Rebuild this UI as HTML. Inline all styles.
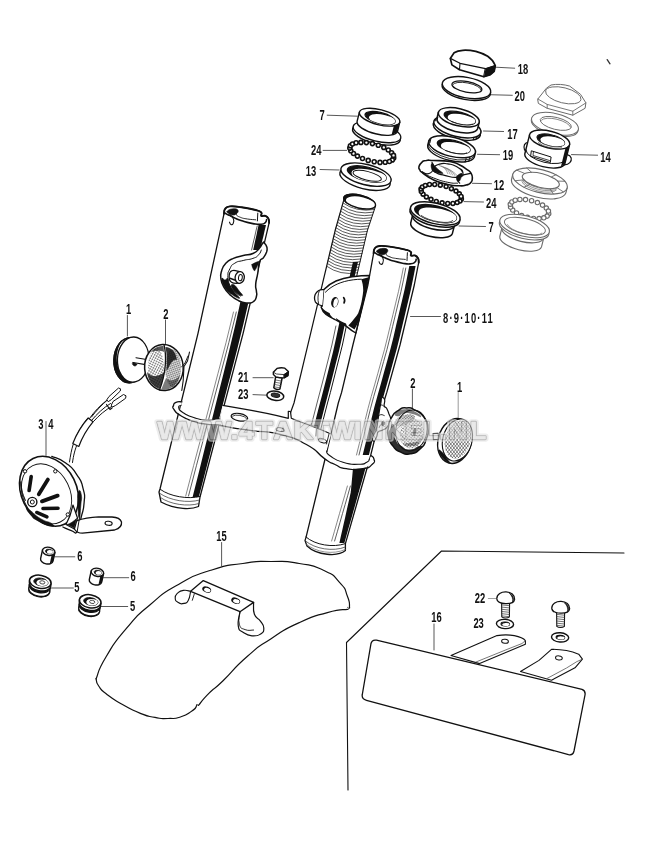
<!DOCTYPE html>
<html><head><meta charset="utf-8"><title>Front fork</title>
<style>html,body{margin:0;padding:0;background:#fff}svg{display:block}text{font-family:"Liberation Sans",sans-serif}</style>
</head><body>
<svg width="646" height="862" viewBox="0 0 646 862">
<rect width="646" height="862" fill="#fff"/>
<defs><pattern id="stip" width="2.4" height="2.4" patternUnits="userSpaceOnUse" patternTransform="rotate(28)"><circle cx="0.8" cy="0.8" r="0.75" fill="#111"/></pattern><pattern id="stip2" width="2" height="2" patternUnits="userSpaceOnUse" patternTransform="rotate(-20)"><circle cx="0.8" cy="0.8" r="0.8" fill="#111"/></pattern></defs>
<path d="M624 553 L441.5 551 L346.5 642.5 L348 790" fill="none" stroke="#111" stroke-width="1.1" stroke-linejoin="round" stroke-linecap="round" />
<g opacity="0.999">
<text transform="translate(517.8 74.0) scale(0.66 1)" text-anchor="start" font-size="14.2" font-weight="700" fill="#111">18</text>
<text transform="translate(514.5 101.0) scale(0.66 1)" text-anchor="start" font-size="14.2" font-weight="700" fill="#111">20</text>
<text transform="translate(507.3 138.5) scale(0.66 1)" text-anchor="start" font-size="14.2" font-weight="700" fill="#111">17</text>
<text transform="translate(502.8 160.0) scale(0.66 1)" text-anchor="start" font-size="14.2" font-weight="700" fill="#111">19</text>
<text transform="translate(600.3 162.0) scale(0.66 1)" text-anchor="start" font-size="14.2" font-weight="700" fill="#111">14</text>
<text transform="translate(493.8 189.5) scale(0.66 1)" text-anchor="start" font-size="14.2" font-weight="700" fill="#111">12</text>
<text transform="translate(486.0 208.0) scale(0.66 1)" text-anchor="start" font-size="14.2" font-weight="700" fill="#111">24</text>
<text transform="translate(488.5 231.5) scale(0.66 1)" text-anchor="start" font-size="14.2" font-weight="700" fill="#111">7</text>
<text transform="translate(410.2 387.5) scale(0.66 1)" text-anchor="start" font-size="14.2" font-weight="700" fill="#111">2</text>
<text transform="translate(457.0 391.5) scale(0.66 1)" text-anchor="start" font-size="14.2" font-weight="700" fill="#111">1</text>
<text transform="translate(319.5 119.8) scale(0.66 1)" text-anchor="start" font-size="14.2" font-weight="700" fill="#111">7</text>
<text transform="translate(311.0 155.4) scale(0.66 1)" text-anchor="start" font-size="14.2" font-weight="700" fill="#111">24</text>
<text transform="translate(305.8 175.5) scale(0.66 1)" text-anchor="start" font-size="14.2" font-weight="700" fill="#111">13</text>
<text transform="translate(126.1 313.7) scale(0.66 1)" text-anchor="start" font-size="14.2" font-weight="700" fill="#111">1</text>
<text transform="translate(163.2 318.5) scale(0.66 1)" text-anchor="start" font-size="14.2" font-weight="700" fill="#111">2</text>
<text transform="translate(238.0 382.0) scale(0.66 1)" text-anchor="start" font-size="14.2" font-weight="700" fill="#111">21</text>
<text transform="translate(238.0 399.0) scale(0.66 1)" text-anchor="start" font-size="14.2" font-weight="700" fill="#111">23</text>
<text transform="translate(77.2 561.0) scale(0.66 1)" text-anchor="start" font-size="14.2" font-weight="700" fill="#111">6</text>
<text transform="translate(130.5 581.4) scale(0.66 1)" text-anchor="start" font-size="14.2" font-weight="700" fill="#111">6</text>
<text transform="translate(74.2 592.4) scale(0.66 1)" text-anchor="start" font-size="14.2" font-weight="700" fill="#111">5</text>
<text transform="translate(130.0 610.5) scale(0.66 1)" text-anchor="start" font-size="14.2" font-weight="700" fill="#111">5</text>
<text transform="translate(216.3 540.5) scale(0.66 1)" text-anchor="start" font-size="14.2" font-weight="700" fill="#111">15</text>
<text transform="translate(431.3 622.0) scale(0.66 1)" text-anchor="start" font-size="14.2" font-weight="700" fill="#111">16</text>
<text transform="translate(474.7 603.4) scale(0.66 1)" text-anchor="start" font-size="14.2" font-weight="700" fill="#111">22</text>
<text transform="translate(473.4 628.2) scale(0.66 1)" text-anchor="start" font-size="14.2" font-weight="700" fill="#111">23</text>
<text transform="translate(443 322.5) scale(0.66 1)" font-size="14.2" font-weight="700" fill="#111" textLength="75.5" lengthAdjust="spacing">8·9·10·11</text>
<text transform="translate(38.2 428.5) scale(0.66 1)" font-size="14.2" font-weight="700" fill="#111" textLength="23" lengthAdjust="spacing">3 4</text>
</g>
<line x1="495.6" y1="67.2" x2="514.7" y2="68.2" stroke="#3a3a3a" stroke-width="0.85" stroke-linecap="round"/>
<line x1="489.5" y1="94.7" x2="512.3" y2="95.3" stroke="#3a3a3a" stroke-width="0.85" stroke-linecap="round"/>
<line x1="483.5" y1="131.0" x2="503.6" y2="131.5" stroke="#3a3a3a" stroke-width="0.85" stroke-linecap="round"/>
<line x1="477.5" y1="154.3" x2="499.6" y2="154.7" stroke="#3a3a3a" stroke-width="0.85" stroke-linecap="round"/>
<line x1="472.4" y1="183.3" x2="491.5" y2="183.7" stroke="#3a3a3a" stroke-width="0.85" stroke-linecap="round"/>
<line x1="464.0" y1="201.6" x2="483.5" y2="202.0" stroke="#3a3a3a" stroke-width="0.85" stroke-linecap="round"/>
<line x1="459.0" y1="226.0" x2="485.5" y2="226.5" stroke="#3a3a3a" stroke-width="0.85" stroke-linecap="round"/>
<line x1="571.5" y1="154.6" x2="597.6" y2="155.2" stroke="#3a3a3a" stroke-width="0.85" stroke-linecap="round"/>
<line x1="327.2" y1="115.2" x2="357.3" y2="116.2" stroke="#3a3a3a" stroke-width="0.85" stroke-linecap="round"/>
<line x1="323.1" y1="150.4" x2="346.7" y2="150.4" stroke="#3a3a3a" stroke-width="0.85" stroke-linecap="round"/>
<line x1="320.1" y1="169.5" x2="339.2" y2="170.0" stroke="#3a3a3a" stroke-width="0.85" stroke-linecap="round"/>
<line x1="410.5" y1="316.5" x2="440.5" y2="316.5" stroke="#3a3a3a" stroke-width="0.85" stroke-linecap="round"/>
<line x1="253.0" y1="377.7" x2="273.2" y2="377.7" stroke="#3a3a3a" stroke-width="0.85" stroke-linecap="round"/>
<line x1="253.0" y1="394.6" x2="267.2" y2="395.2" stroke="#3a3a3a" stroke-width="0.85" stroke-linecap="round"/>
<line x1="412.4" y1="389.0" x2="412.4" y2="408.0" stroke="#3a3a3a" stroke-width="0.85" stroke-linecap="round"/>
<line x1="458.2" y1="392.5" x2="458.2" y2="420.0" stroke="#888" stroke-width="0.85" stroke-linecap="round"/>
<line x1="127.4" y1="315.5" x2="127.4" y2="336.0" stroke="#3a3a3a" stroke-width="0.85" stroke-linecap="round"/>
<line x1="165.5" y1="320.0" x2="165.5" y2="344.7" stroke="#3a3a3a" stroke-width="0.85" stroke-linecap="round"/>
<line x1="46.0" y1="421.5" x2="46.0" y2="455.5" stroke="#3a3a3a" stroke-width="0.85" stroke-linecap="round"/>
<line x1="54.7" y1="556.8" x2="74.8" y2="556.8" stroke="#3a3a3a" stroke-width="0.85" stroke-linecap="round"/>
<line x1="103.6" y1="577.7" x2="128.7" y2="577.7" stroke="#3a3a3a" stroke-width="0.85" stroke-linecap="round"/>
<line x1="51.2" y1="588.0" x2="73.4" y2="588.0" stroke="#3a3a3a" stroke-width="0.85" stroke-linecap="round"/>
<line x1="100.5" y1="606.5" x2="127.7" y2="606.5" stroke="#3a3a3a" stroke-width="0.85" stroke-linecap="round"/>
<line x1="221.6" y1="542.5" x2="221.6" y2="566.0" stroke="#3a3a3a" stroke-width="0.85" stroke-linecap="round"/>
<line x1="434.0" y1="624.0" x2="434.0" y2="650.0" stroke="#3a3a3a" stroke-width="0.85" stroke-linecap="round"/>
<line x1="488.3" y1="598.5" x2="495.7" y2="598.5" stroke="#888" stroke-width="0.8" stroke-linecap="round"/>
<path d="M450.3 58.4 L454.1 52.8 C457 51 460 50.5 462.8 50.3 C467 50 471.5 50.5 475.8 51.4 C480 52.5 484 54 487.7 56.3 C491 58.5 493.5 61.5 495.3 65.5 L494.2 71.4 L490.4 74.7 L483.9 76.8 L459.5 69.8 L451.9 64.9 Z" fill="#fff" stroke="#111" stroke-width="1.7" stroke-linejoin="round" stroke-linecap="round" />
<path d="M450.3 58.4 L460 63.3 L485.5 68.7 L495.3 65.5" fill="none" stroke="#111" stroke-width="1.2" stroke-linejoin="round" stroke-linecap="round" />
<path d="M460 63.3 L459.5 69.8" fill="none" stroke="#111" stroke-width="1.1" stroke-linejoin="round" stroke-linecap="round" />
<path d="M485.5 68.7 L495.3 65.5 L494.2 71.4 L490.4 74.7 L483.9 76.8 Z" fill="#111" stroke="#111" stroke-width="1.0" stroke-linejoin="round" stroke-linecap="round" />
<ellipse cx="466.3" cy="89.4" rx="24.6" ry="10.2" transform="rotate(11 466.3 89.4)" fill="#fff" stroke="#111" stroke-width="1.4" />
<ellipse cx="466.5" cy="87.6" rx="24.6" ry="10.2" transform="rotate(11 466.5 87.6)" fill="#fff" stroke="#111" stroke-width="1.4" />
<ellipse cx="466.9" cy="86.9" rx="15.2" ry="5.3" transform="rotate(11 466.9 86.9)" fill="#fff" stroke="#111" stroke-width="1.3" />
<path d="M452.7 84.7 A14.6 4.9 11 0 1 481.3 90.3" fill="none" stroke="#111" stroke-width="0.9" stroke-linejoin="round" stroke-linecap="round" />
<ellipse cx="456.8" cy="129.4" rx="24.2" ry="9.6" transform="rotate(14 456.8 129.4)" fill="#fff" stroke="#111" stroke-width="1.5" />
<ellipse cx="457.4" cy="126.9" rx="24.2" ry="9.6" transform="rotate(14 457.4 126.9)" fill="#fff" stroke="#111" stroke-width="1.5" />
<path d="M438.4 112.2 L436.9 118.5 A21 8.5 14 0 0 477.6 128.7 L479.2 122.4 Z" fill="#fff" stroke="#111" stroke-width="1.5" stroke-linejoin="round" stroke-linecap="round" />
<ellipse cx="458.8" cy="117.3" rx="21.0" ry="8.5" transform="rotate(14 458.8 117.3)" fill="#fff" stroke="#111" stroke-width="1.5" />
<ellipse cx="459.8" cy="117.9" rx="16.0" ry="5.7" transform="rotate(14 459.8 117.9)" fill="#fff" stroke="#111" stroke-width="1.35" />
<clipPath id="c1"><ellipse cx="459.8" cy="117.9" rx="16.0" ry="5.7" transform="rotate(14 459.8 117.9)"/></clipPath>
<g clip-path="url(#c1)">
<ellipse cx="459.8" cy="117.9" rx="16.0" ry="5.7" transform="rotate(14 459.8 117.9)" fill="#111" stroke="none" stroke-width="0" />
<ellipse cx="463.3" cy="120.5" rx="16.0" ry="5.7" transform="rotate(14 463.3 120.5)" fill="#fff" stroke="none" stroke-width="0" />
</g>
<path d="M472.2 124.1 A14 4.4 14 0 1 451.7 121.7" fill="none" stroke="#111" stroke-width="0.8" stroke-linejoin="round" stroke-linecap="round" />
<line x1="435.8" y1="118.5" x2="435.2" y2="121.0" stroke="#111" stroke-width="1.0" stroke-linecap="round"/>
<line x1="437.8" y1="117.4" x2="437.1" y2="119.9" stroke="#111" stroke-width="1.0" stroke-linecap="round"/>
<line x1="477.0" y1="136.4" x2="476.4" y2="139.0" stroke="#111" stroke-width="1.0" stroke-linecap="round"/>
<line x1="473.9" y1="137.4" x2="473.3" y2="139.9" stroke="#111" stroke-width="1.0" stroke-linecap="round"/>
<path d="M428.8 141.0 L427.7 145.7 A24 9.6 14 0 0 474.2 157.3 L475.4 152.6 Z" fill="#fff" stroke="#111" stroke-width="1.5" stroke-linejoin="round" stroke-linecap="round" />
<ellipse cx="452.1" cy="146.8" rx="24.0" ry="9.6" transform="rotate(14 452.1 146.8)" fill="#fff" stroke="#111" stroke-width="1.5" />
<path d="M474.5 155.7 A24 9.6 14 0 1 428.1 144.2" fill="none" stroke="#111" stroke-width="0.9" stroke-linejoin="round" stroke-linecap="round" />
<ellipse cx="453.7" cy="146.5" rx="16.8" ry="6.0" transform="rotate(14 453.7 146.5)" fill="#fff" stroke="#111" stroke-width="1.35" />
<clipPath id="c2"><ellipse cx="453.7" cy="146.5" rx="16.8" ry="6.0" transform="rotate(14 453.7 146.5)"/></clipPath>
<g clip-path="url(#c2)">
<ellipse cx="453.7" cy="146.5" rx="16.8" ry="6.0" transform="rotate(14 453.7 146.5)" fill="#111" stroke="none" stroke-width="0" />
<ellipse cx="457.3" cy="149.1" rx="16.8" ry="6.0" transform="rotate(14 457.3 149.1)" fill="#fff" stroke="none" stroke-width="0" />
</g>
<path d="M466.6 152.9 A14.5 4.6 14 0 1 445.3 150.5" fill="none" stroke="#111" stroke-width="0.8" stroke-linejoin="round" stroke-linecap="round" />
<line x1="469.8" y1="156.9" x2="468.7" y2="161.6" stroke="#111" stroke-width="1.0" stroke-linecap="round"/>
<line x1="466.3" y1="157.6" x2="465.1" y2="162.2" stroke="#111" stroke-width="1.0" stroke-linecap="round"/>
<line x1="429.6" y1="139.5" x2="428.4" y2="144.1" stroke="#111" stroke-width="1.0" stroke-linecap="round"/>
<line x1="431.0" y1="138.2" x2="429.9" y2="142.8" stroke="#111" stroke-width="1.0" stroke-linecap="round"/>
<path d="M419.0 166.6 C419.6 164.4 419.6 164.1 421.8 162.3 C423.9 160.4 422.5 161.0 426.1 160.5 C429.7 159.9 426.5 160.1 433.7 160.5 C440.8 160.8 442.1 160.2 449.9 161.5 C457.7 162.9 454.6 162.7 459.7 165.0 C464.7 167.3 463.3 166.9 466.7 169.3 C470.1 171.8 469.4 170.4 471.0 173.1 C472.7 175.9 472.5 175.6 472.3 178.5 C472.2 181.5 472.4 180.9 470.5 182.9 C468.7 184.8 469.4 184.2 466.2 185.0 C462.9 185.9 465.2 186.0 459.7 185.8 C454.1 185.6 455.6 186.3 447.8 184.5 C440.0 182.7 441.1 183.4 433.7 180.0 C426.2 176.5 427.0 176.1 422.8 173.1 C418.7 170.1 420.9 171.8 419.8 169.9 C418.7 167.9 418.5 168.9 419.0 166.6 Z" fill="#fff" stroke="#111" stroke-width="1.6" stroke-linejoin="round" stroke-linecap="round" />
<path d="M433.7 168.3 C434.8 165.7 435.4 165.4 439.6 164.1 C443.9 162.8 442.7 163.2 447.8 163.9 C452.8 164.7 451.9 164.0 456.4 166.6 C461.0 169.2 462.4 169.4 462.9 172.6 C463.4 175.7 463.6 176.3 458.0 177.1 C452.5 178.0 451.2 176.8 444.5 175.4 C437.8 174.0 439.1 174.7 435.8 172.6 C432.6 170.4 432.5 170.8 433.7 168.3 Z" fill="#fff" stroke="#111" stroke-width="1.2" stroke-linejoin="round" stroke-linecap="round" />
<path d="M439.1 165.5 C440.7 166.4 441.9 165.8 444.5 168.3 C447.1 170.7 446.8 172.0 447.8 173.7" fill="none" stroke="#666" stroke-width="0.6" stroke-linejoin="round" stroke-linecap="round" />
<path d="M441.0 166.2 C442.8 167.1 444.2 166.9 446.9 169.3 C449.6 171.8 449.2 172.8 450.1 174.3" fill="none" stroke="#666" stroke-width="0.6" stroke-linejoin="round" stroke-linecap="round" />
<path d="M443.0 166.8 C444.9 167.9 446.4 168.0 449.3 170.4 C452.1 172.9 451.5 173.6 452.5 175.0" fill="none" stroke="#666" stroke-width="0.6" stroke-linejoin="round" stroke-linecap="round" />
<path d="M444.9 167.5 C447.0 168.7 448.7 169.1 451.7 171.5 C454.6 173.9 453.9 174.4 454.9 175.6" fill="none" stroke="#666" stroke-width="0.6" stroke-linejoin="round" stroke-linecap="round" />
<path d="M446.9 168.1 C449.0 169.5 450.9 170.1 454.0 172.6 C457.2 175.0 456.3 175.2 457.3 176.3" fill="none" stroke="#666" stroke-width="0.6" stroke-linejoin="round" stroke-linecap="round" />
<path d="M432.0 162.3 C432.5 164.1 434.8 164.8 433.7 168.3 C432.5 171.7 431.7 172.6 428.3 173.7 C424.8 174.7 424.1 172.3 422.3 171.7" fill="none" stroke="#111" stroke-width="1.2" stroke-linejoin="round" stroke-linecap="round" />
<path d="M458.6 176.1 C462.2 175.2 466.9 174.2 470.5 173.3" fill="none" stroke="#111" stroke-width="1.2" stroke-linejoin="round" stroke-linecap="round" />
<path d="M458.6 176.1 C458.1 177.0 456.6 176.9 457.0 179.1 C457.3 181.2 458.9 182.0 459.7 183.2" fill="none" stroke="#111" stroke-width="1.2" stroke-linejoin="round" stroke-linecap="round" />
<path d="M422.8 173.1 C426.1 174.6 426.2 175.2 433.7 178.0 C441.1 180.8 440.6 180.8 447.8 182.3 C454.9 183.9 454.6 182.9 457.5 183.2" fill="none" stroke="#111" stroke-width="1.0" stroke-linejoin="round" stroke-linecap="round" />
<path d="M432.0 163.7 C433.3 163.9 435.8 167.4 438.0 169.3 C440.2 171.3 443.6 173.0 442.9 173.5 C442.1 173.9 436.5 172.8 434.2 171.7 C431.9 170.7 431.9 169.9 431.5 168.3 C431.1 166.6 430.7 163.5 432.0 163.7 Z" fill="#111" stroke="#111" stroke-width="0.6" stroke-linejoin="round" stroke-linecap="round" />
<path d="M457.0 176.1 C457.7 174.8 461.6 172.7 462.1 173.5 C462.5 174.2 460.6 179.1 459.9 180.4 C459.1 181.6 458.0 181.8 457.5 181.0 C457.0 180.3 456.2 177.3 457.0 176.1 Z" fill="#111" stroke="#111" stroke-width="0.6" stroke-linejoin="round" stroke-linecap="round" />
<circle cx="461.4" cy="199.0" r="1.95" fill="#fff" stroke="#111" stroke-width="1.6"/>
<circle cx="460.0" cy="201.1" r="1.95" fill="#fff" stroke="#111" stroke-width="1.6"/>
<circle cx="457.1" cy="202.6" r="1.95" fill="#fff" stroke="#111" stroke-width="1.6"/>
<circle cx="452.9" cy="203.5" r="1.95" fill="#fff" stroke="#111" stroke-width="1.6"/>
<circle cx="447.7" cy="203.5" r="1.95" fill="#fff" stroke="#111" stroke-width="1.6"/>
<circle cx="442.1" cy="202.8" r="1.95" fill="#fff" stroke="#111" stroke-width="1.6"/>
<circle cx="436.3" cy="201.4" r="1.95" fill="#fff" stroke="#111" stroke-width="1.6"/>
<circle cx="431.0" cy="199.3" r="1.95" fill="#fff" stroke="#111" stroke-width="1.6"/>
<circle cx="426.4" cy="196.9" r="1.95" fill="#fff" stroke="#111" stroke-width="1.6"/>
<circle cx="423.1" cy="194.2" r="1.95" fill="#fff" stroke="#111" stroke-width="1.6"/>
<circle cx="421.3" cy="191.5" r="1.95" fill="#fff" stroke="#111" stroke-width="1.6"/>
<circle cx="421.0" cy="189.0" r="1.95" fill="#fff" stroke="#111" stroke-width="1.6"/>
<circle cx="422.4" cy="186.9" r="1.95" fill="#fff" stroke="#111" stroke-width="1.6"/>
<circle cx="425.3" cy="185.4" r="1.95" fill="#fff" stroke="#111" stroke-width="1.6"/>
<circle cx="429.5" cy="184.5" r="1.95" fill="#fff" stroke="#111" stroke-width="1.6"/>
<circle cx="434.7" cy="184.5" r="1.95" fill="#fff" stroke="#111" stroke-width="1.6"/>
<circle cx="440.3" cy="185.2" r="1.95" fill="#fff" stroke="#111" stroke-width="1.6"/>
<circle cx="446.1" cy="186.6" r="1.95" fill="#fff" stroke="#111" stroke-width="1.6"/>
<circle cx="451.4" cy="188.7" r="1.95" fill="#fff" stroke="#111" stroke-width="1.6"/>
<circle cx="456.0" cy="191.1" r="1.95" fill="#fff" stroke="#111" stroke-width="1.6"/>
<circle cx="459.3" cy="193.8" r="1.95" fill="#fff" stroke="#111" stroke-width="1.6"/>
<circle cx="461.1" cy="196.5" r="1.95" fill="#fff" stroke="#111" stroke-width="1.6"/>
<path d="M412.6 215.2 L410.7 223.0 A21.5 8.6 14 0 0 452.4 233.4 L454.4 225.6 Z" fill="#fff" stroke="#111" stroke-width="1.5" stroke-linejoin="round" stroke-linecap="round" />
<ellipse cx="433.5" cy="220.4" rx="21.5" ry="8.6" transform="rotate(14 433.5 220.4)" fill="#fff" stroke="#111" stroke-width="1.5" />
<ellipse cx="434.8" cy="215.6" rx="25.5" ry="10.3" transform="rotate(14 434.8 215.6)" fill="#fff" stroke="#111" stroke-width="1.5" />
<ellipse cx="435.3" cy="213.4" rx="25.5" ry="10.3" transform="rotate(14 435.3 213.4)" fill="#fff" stroke="#111" stroke-width="1.5" />
<ellipse cx="435.6" cy="213.6" rx="21.5" ry="7.8" transform="rotate(14 435.6 213.6)" fill="#fff" stroke="#111" stroke-width="1.275" />
<clipPath id="c3"><ellipse cx="435.6" cy="213.6" rx="21.5" ry="7.8" transform="rotate(14 435.6 213.6)"/></clipPath>
<g clip-path="url(#c3)">
<ellipse cx="435.6" cy="213.6" rx="21.5" ry="7.8" transform="rotate(14 435.6 213.6)" fill="#111" stroke="none" stroke-width="0" />
<ellipse cx="439.6" cy="216.6" rx="21.5" ry="7.8" transform="rotate(14 439.6 216.6)" fill="#fff" stroke="none" stroke-width="0" />
</g>
<path d="M452.6 220.6 A18 5.6 14 0 1 421.3 215.6" fill="none" stroke="#111" stroke-width="0.8" stroke-linejoin="round" stroke-linecap="round" />
<ellipse cx="376.4" cy="134.6" rx="24.5" ry="9.0" transform="rotate(14 376.4 134.6)" fill="#fff" stroke="#111" stroke-width="1.4" />
<ellipse cx="377.0" cy="132.2" rx="24.5" ry="9.0" transform="rotate(14 377.0 132.2)" fill="#fff" stroke="#111" stroke-width="1.4" />
<path d="M359.4 112.2 L357.1 121.4 A20.8 7.6 14 0 0 397.5 131.4 L399.8 122.2 Z" fill="#fff" stroke="#111" stroke-width="1.4" stroke-linejoin="round" stroke-linecap="round" />
<ellipse cx="379.6" cy="117.2" rx="20.8" ry="7.6" transform="rotate(14 379.6 117.2)" fill="#fff" stroke="#111" stroke-width="1.4" />
<path d="M399.3 123.2 L397.0 132.4 L391.6 135.0 L393.9 125.8 Z" fill="#111" stroke="none" stroke-width="1.1" stroke-linejoin="round" stroke-linecap="round" />
<ellipse cx="380.1" cy="118.0" rx="15.5" ry="5.5" transform="rotate(14 380.1 118.0)" fill="#fff" stroke="#111" stroke-width="1.19" />
<clipPath id="c4"><ellipse cx="380.1" cy="118.0" rx="15.5" ry="5.5" transform="rotate(14 380.1 118.0)"/></clipPath>
<g clip-path="url(#c4)">
<ellipse cx="380.1" cy="118.0" rx="15.5" ry="5.5" transform="rotate(14 380.1 118.0)" fill="#111" stroke="none" stroke-width="0" />
<ellipse cx="384.1" cy="120.6" rx="15.5" ry="5.5" transform="rotate(14 384.1 120.6)" fill="#fff" stroke="none" stroke-width="0" />
</g>
<circle cx="393.7" cy="157.9" r="2.0" fill="#fff" stroke="#111" stroke-width="1.6"/>
<circle cx="392.3" cy="159.9" r="2.0" fill="#fff" stroke="#111" stroke-width="1.6"/>
<circle cx="389.4" cy="161.5" r="2.0" fill="#fff" stroke="#111" stroke-width="1.6"/>
<circle cx="385.2" cy="162.3" r="2.0" fill="#fff" stroke="#111" stroke-width="1.6"/>
<circle cx="380.0" cy="162.4" r="2.0" fill="#fff" stroke="#111" stroke-width="1.6"/>
<circle cx="374.2" cy="161.8" r="2.0" fill="#fff" stroke="#111" stroke-width="1.6"/>
<circle cx="368.2" cy="160.4" r="2.0" fill="#fff" stroke="#111" stroke-width="1.6"/>
<circle cx="362.5" cy="158.5" r="2.0" fill="#fff" stroke="#111" stroke-width="1.6"/>
<circle cx="357.4" cy="156.1" r="2.0" fill="#fff" stroke="#111" stroke-width="1.6"/>
<circle cx="353.5" cy="153.5" r="2.0" fill="#fff" stroke="#111" stroke-width="1.6"/>
<circle cx="350.8" cy="150.7" r="2.0" fill="#fff" stroke="#111" stroke-width="1.6"/>
<circle cx="349.8" cy="148.1" r="2.0" fill="#fff" stroke="#111" stroke-width="1.6"/>
<circle cx="350.4" cy="145.8" r="2.0" fill="#fff" stroke="#111" stroke-width="1.6"/>
<circle cx="352.5" cy="144.0" r="2.0" fill="#fff" stroke="#111" stroke-width="1.6"/>
<circle cx="356.1" cy="142.8" r="2.0" fill="#fff" stroke="#111" stroke-width="1.6"/>
<circle cx="360.9" cy="142.4" r="2.0" fill="#fff" stroke="#111" stroke-width="1.6"/>
<circle cx="366.4" cy="142.6" r="2.0" fill="#fff" stroke="#111" stroke-width="1.6"/>
<circle cx="372.4" cy="143.6" r="2.0" fill="#fff" stroke="#111" stroke-width="1.6"/>
<circle cx="378.3" cy="145.2" r="2.0" fill="#fff" stroke="#111" stroke-width="1.6"/>
<circle cx="383.8" cy="147.4" r="2.0" fill="#fff" stroke="#111" stroke-width="1.6"/>
<circle cx="388.3" cy="150.0" r="2.0" fill="#fff" stroke="#111" stroke-width="1.6"/>
<circle cx="391.6" cy="152.7" r="2.0" fill="#fff" stroke="#111" stroke-width="1.6"/>
<circle cx="393.5" cy="155.4" r="2.0" fill="#fff" stroke="#111" stroke-width="1.6"/>
<ellipse cx="365.0" cy="178.7" rx="25.8" ry="10.2" transform="rotate(14 365.0 178.7)" fill="#fff" stroke="#111" stroke-width="1.4" />
<ellipse cx="366.0" cy="174.6" rx="25.8" ry="10.2" transform="rotate(14 366.0 174.6)" fill="#fff" stroke="#111" stroke-width="1.4" />
<ellipse cx="366.8" cy="174.0" rx="20.0" ry="7.0" transform="rotate(14 366.8 174.0)" fill="#fff" stroke="#111" stroke-width="1.19" />
<clipPath id="c5"><ellipse cx="366.8" cy="174.0" rx="20.0" ry="7.0" transform="rotate(14 366.8 174.0)"/></clipPath>
<g clip-path="url(#c5)">
<ellipse cx="366.8" cy="174.0" rx="20.0" ry="7.0" transform="rotate(14 366.8 174.0)" fill="#111" stroke="none" stroke-width="0" />
<ellipse cx="371.0" cy="177.0" rx="20.0" ry="7.0" transform="rotate(14 371.0 177.0)" fill="#fff" stroke="none" stroke-width="0" />
</g>
<ellipse cx="367.2" cy="175.8" rx="14.5" ry="4.3" transform="rotate(14 367.2 175.8)" fill="#fff" stroke="#111" stroke-width="1.0" />
<path d="M343.9 199.7 L335.3 230.0 L294.0 403.0 L289.3 416.0 L286.0 430.0 L316.0 450.0 L318.0 440.0 L327.5 403.0 L330.4 392.4 L342.4 345.0 L357.4 273.0 L367.5 230.0 L375.6 206.0 Z" fill="#fff" stroke="none" stroke-width="1.2" stroke-linejoin="round" stroke-linecap="round" />
<path d="M343.9 199.7 L335.3 230.0 L294.0 403.0 L289.3 416.0 L286.0 430.0" fill="none" stroke="#111" stroke-width="1.2" stroke-linejoin="round" stroke-linecap="round" />
<path d="M375.6 206.0 L367.5 230.0 L357.4 273.0 L342.4 345.0 L330.4 392.4 L327.5 403.0 L318.0 440.0 L316.0 450.0" fill="none" stroke="#111" stroke-width="1.0" stroke-linejoin="round" stroke-linecap="round" />
<path d="M343.0 203.0 Q356.7 212.5 374.4 209.5" fill="none" stroke="#222" stroke-width="0.75" stroke-linejoin="round" stroke-linecap="round" />
<path d="M342.2 205.8 Q355.8 215.2 373.5 212.2" fill="none" stroke="#222" stroke-width="0.75" stroke-linejoin="round" stroke-linecap="round" />
<path d="M341.4 208.5 Q355.0 218.0 372.6 215.0" fill="none" stroke="#222" stroke-width="0.75" stroke-linejoin="round" stroke-linecap="round" />
<path d="M340.6 211.2 Q354.1 220.8 371.6 217.8" fill="none" stroke="#222" stroke-width="0.75" stroke-linejoin="round" stroke-linecap="round" />
<path d="M339.8 214.0 Q353.3 223.5 370.7 220.5" fill="none" stroke="#222" stroke-width="0.75" stroke-linejoin="round" stroke-linecap="round" />
<path d="M339.1 216.8 Q352.4 226.2 369.8 223.2" fill="none" stroke="#222" stroke-width="0.75" stroke-linejoin="round" stroke-linecap="round" />
<path d="M338.3 219.5 Q351.6 229.0 368.9 226.0" fill="none" stroke="#222" stroke-width="0.75" stroke-linejoin="round" stroke-linecap="round" />
<path d="M337.5 222.2 Q350.7 231.8 367.9 228.8" fill="none" stroke="#222" stroke-width="0.75" stroke-linejoin="round" stroke-linecap="round" />
<path d="M336.7 225.0 Q349.9 234.5 367.1 231.5" fill="none" stroke="#222" stroke-width="0.75" stroke-linejoin="round" stroke-linecap="round" />
<path d="M335.9 227.8 Q349.2 237.2 366.5 234.2" fill="none" stroke="#222" stroke-width="0.75" stroke-linejoin="round" stroke-linecap="round" />
<path d="M335.2 230.5 Q348.5 240.0 365.9 237.0" fill="none" stroke="#222" stroke-width="0.75" stroke-linejoin="round" stroke-linecap="round" />
<path d="M334.5 233.2 Q347.9 242.8 365.2 239.8" fill="none" stroke="#222" stroke-width="0.75" stroke-linejoin="round" stroke-linecap="round" />
<path d="M333.9 236.0 Q347.2 245.5 364.6 242.5" fill="none" stroke="#222" stroke-width="0.75" stroke-linejoin="round" stroke-linecap="round" />
<path d="M333.2 238.8 Q346.6 248.2 363.9 245.2" fill="none" stroke="#222" stroke-width="0.75" stroke-linejoin="round" stroke-linecap="round" />
<path d="M332.6 241.5 Q345.9 251.0 363.3 248.0" fill="none" stroke="#222" stroke-width="0.75" stroke-linejoin="round" stroke-linecap="round" />
<path d="M331.9 244.2 Q345.3 253.8 362.6 250.8" fill="none" stroke="#222" stroke-width="0.75" stroke-linejoin="round" stroke-linecap="round" />
<path d="M331.2 247.0 Q344.6 256.5 362.0 253.5" fill="none" stroke="#222" stroke-width="0.75" stroke-linejoin="round" stroke-linecap="round" />
<path d="M330.6 249.8 Q344.0 259.2 361.3 256.2" fill="none" stroke="#222" stroke-width="0.75" stroke-linejoin="round" stroke-linecap="round" />
<path d="M329.9 252.5 Q343.3 262.0 360.7 259.0" fill="none" stroke="#222" stroke-width="0.75" stroke-linejoin="round" stroke-linecap="round" />
<path d="M329.3 255.2 Q342.7 264.8 360.0 261.8" fill="none" stroke="#222" stroke-width="0.75" stroke-linejoin="round" stroke-linecap="round" />
<path d="M328.6 258.0 Q342.0 267.5 359.4 264.5" fill="none" stroke="#222" stroke-width="0.75" stroke-linejoin="round" stroke-linecap="round" />
<path d="M328.0 260.8 Q341.4 270.2 358.8 267.2" fill="none" stroke="#222" stroke-width="0.75" stroke-linejoin="round" stroke-linecap="round" />
<path d="M327.3 263.5 Q340.7 273.0 358.1 270.0" fill="none" stroke="#222" stroke-width="0.75" stroke-linejoin="round" stroke-linecap="round" />
<path d="M326.6 266.2 Q340.1 275.8 357.5 272.8" fill="none" stroke="#222" stroke-width="0.75" stroke-linejoin="round" stroke-linecap="round" />
<ellipse cx="359.6" cy="201.6" rx="16.3" ry="6.4" transform="rotate(14 359.6 201.6)" fill="#fff" stroke="#111" stroke-width="1.3" />
<clipPath id="c6"><ellipse cx="359.6" cy="201.6" rx="16.3" ry="6.4" transform="rotate(14 359.6 201.6)"/></clipPath>
<g clip-path="url(#c6)">
<ellipse cx="359.6" cy="201.6" rx="16.3" ry="6.4" transform="rotate(14 359.6 201.6)" fill="#111" stroke="none" stroke-width="0" />
<ellipse cx="361.8" cy="203.6" rx="16.3" ry="6.4" transform="rotate(14 361.8 203.6)" fill="#fff" stroke="none" stroke-width="0" />
</g>
<ellipse cx="359.6" cy="201.6" rx="16.3" ry="6.4" transform="rotate(14 359.6 201.6)" fill="none" stroke="#111" stroke-width="1.3" />
<path d="M345.3 322.0 L342.2 336.8 L338.9 351.5 L335.1 366.2 L331.4 381.0 L327.6 395.8 L323.7 410.5 L319.9 425.2 L316.1 440.0 L310.5 440.0 L314.3 425.2 L318.0 410.5 L321.9 395.8 L325.7 381.0 L329.4 366.2 L333.1 351.5 L336.4 336.8 L339.5 322.0 Z" fill="#111" stroke="none" stroke-width="0" stroke-linejoin="round" stroke-linecap="round" />
<path d="M335.9 326.0 L331.9 345.0 L327.1 364.0 L322.3 383.0 L317.3 402.0 L312.4 421.0 L307.5 440.0" fill="none" stroke="#333" stroke-width="0.8" stroke-linejoin="round" stroke-linecap="round" />
<path d="M224.0 212.0 L198.0 333.3 L160.0 489.0 L159.0 492.0 L161.0 502.0 L170.0 507.0 L181.0 509.3 L192.0 508.8 L198.5 506.5 L200.0 497.0 L200.0 497.0 L231.7 376.7 L243.1 333.3 L269.8 219.0 Z" fill="#fff" stroke="none" stroke-width="1.2" stroke-linejoin="round" stroke-linecap="round" />
<path d="M224.0 213.8 C224.2 212.7 223.7 210.6 225.1 208.9 C226.5 207.2 226.0 206.8 229.9 206.4 C233.8 206.0 235.8 206.4 241.8 207.3 C247.8 208.1 251.2 208.8 255.7 210.0 C260.3 211.2 260.0 211.0 261.3 212.4 C262.6 213.8 260.3 215.1 261.3 215.9 C262.3 216.7 263.8 215.2 265.5 215.9 C267.1 216.5 267.7 217.1 268.5 218.7 C269.4 220.3 269.0 221.9 269.1 222.9 L243.1 333.3 L200 497 L198.5 506.5 C192 509.5 176 510 161 502 L159 492 L160 489 L198 333.3 Z" fill="#fff" stroke="#111" stroke-width="1.3" stroke-linejoin="round" stroke-linecap="round" />
<path d="M224.0 213.8 C224.2 212.7 223.7 210.6 225.1 208.9 C226.5 207.2 226.0 206.8 229.9 206.4 C233.8 206.0 235.8 206.4 241.8 207.3 C247.8 208.1 251.2 208.8 255.7 210.0 C260.3 211.2 260.0 211.0 261.3 212.4 C262.6 213.8 260.3 215.1 261.3 215.9 C262.3 216.7 263.8 215.2 265.5 215.9 C267.1 216.5 267.7 217.1 268.5 218.7 C269.4 220.3 269.0 221.9 269.1 222.9" fill="none" stroke="#111" stroke-width="1.9" stroke-linejoin="round" stroke-linecap="round" />
<path d="M227.2 211.3 C228.1 210.1 229.2 209.3 232.0 208.9 C234.9 208.6 236.8 208.6 237.9 210.0 C238.9 211.5 237.7 213.0 235.9 214.2 C234.2 215.5 233.3 215.0 231.3 214.8 C229.4 214.6 229.7 214.3 228.6 213.4 C227.4 212.5 226.2 212.5 227.2 211.3 Z" fill="#111" stroke="#111" stroke-width="0.6" stroke-linejoin="round" stroke-linecap="round" />
<path d="M224.8 212.8 C225.7 213.4 225.9 213.9 227.9 214.8 C229.8 215.7 229.2 214.9 231.3 215.9 C233.4 216.9 231.7 216.5 234.8 218.0 C238.0 219.4 236.4 219.1 241.8 220.8 C247.2 222.4 247.1 222.5 252.9 223.6 C258.8 224.6 257.5 224.6 261.3 224.2 C265.0 223.9 263.9 223.7 265.5 222.3 C267.0 220.9 266.2 220.3 266.6 219.5" fill="none" stroke="#111" stroke-width="1.6" stroke-linejoin="round" stroke-linecap="round" />
<path d="M237.3 210.3 C237.1 211.6 235.6 212.4 236.5 214.5 C237.4 216.6 237.1 215.9 240.4 217.3 C243.6 218.6 242.8 218.2 247.4 219.0 C251.9 219.7 253.2 219.5 255.7 219.8" fill="none" stroke="#111" stroke-width="0.9" stroke-linejoin="round" stroke-linecap="round" />
<path d="M229.9 215.9 C231.0 216.7 232.5 216.4 233.4 218.7 C234.4 221.0 233.9 221.8 233.1 223.6 C232.4 225.3 232.0 224.9 230.9 224.5 C229.8 224.1 229.9 222.9 229.5 222.2" fill="none" stroke="#111" stroke-width="1.1" stroke-linejoin="round" stroke-linecap="round" />
<path d="M257.8 213.1 C257.7 215.7 257.5 218.3 257.4 220.9" fill="none" stroke="#111" stroke-width="1.0" stroke-linejoin="round" stroke-linecap="round" />
<path d="M266.0 225.0 L265.3 228.1 L264.5 231.2 L263.8 234.4 L263.1 237.5 L262.3 240.6 L261.6 243.8 L260.9 246.9 L260.2 250.0 L253.2 250.0 L253.8 246.9 L254.5 243.8 L255.2 240.6 L255.9 237.5 L256.6 234.4 L257.2 231.2 L257.9 228.1 L258.6 225.0 Z" fill="#111" stroke="none" stroke-width="0" stroke-linejoin="round" stroke-linecap="round" />
<path d="M257.2 226.0 L256.2 230.0 L255.3 234.0 L254.4 238.0 L253.4 242.0 L252.5 246.0 L251.6 250.0" fill="none" stroke="#333" stroke-width="0.8" stroke-linejoin="round" stroke-linecap="round" />
<path d="M249.0 300.0 L243.3 324.6 L237.2 349.2 L230.8 373.9 L224.4 398.5 L218.0 423.1 L211.6 447.8 L205.2 472.4 L198.8 497.0 L192.6 497.0 L198.8 472.4 L204.9 447.8 L211.1 423.1 L217.2 398.5 L223.4 373.9 L229.5 349.2 L235.4 324.6 L240.8 300.0 Z" fill="#111" stroke="none" stroke-width="0" stroke-linejoin="round" stroke-linecap="round" />
<path d="M236.3 312.0 L228.8 342.7 L220.8 373.3 L212.7 404.0 L204.6 434.7 L196.5 465.3 L188.5 496.0" fill="none" stroke="#333" stroke-width="0.8" stroke-linejoin="round" stroke-linecap="round" />
<path d="M233.5 312.0 L226.0 342.7 L218.0 373.3 L209.9 404.0 L201.8 434.7 L193.7 465.3 L185.7 496.0" fill="none" stroke="#555" stroke-width="0.7" stroke-linejoin="round" stroke-linecap="round" />
<path d="M160.5 489.5 C170 496.5 188 499.5 200 496.5" fill="none" stroke="#111" stroke-width="1.0" stroke-linejoin="round" stroke-linecap="round" />
<path d="M160 493.5 C170 500.5 188 503.5 199.5 500" fill="none" stroke="#444" stroke-width="0.8" stroke-linejoin="round" stroke-linecap="round" />
<path d="M160.5 497.5 C170 504.5 188 507 199 503.5" fill="none" stroke="#444" stroke-width="0.8" stroke-linejoin="round" stroke-linecap="round" />
<path d="M373.6 253.4 C373.8 252.3 373.3 250.2 374.7 248.5 C376.1 246.8 375.6 246.4 379.5 246.0 C383.4 245.6 385.4 246.0 391.4 246.9 C397.4 247.7 400.8 248.4 405.3 249.6 C409.9 250.8 409.6 250.6 410.9 252.0 C412.2 253.4 409.9 254.7 410.9 255.5 C411.9 256.3 413.4 254.8 415.1 255.5 C416.7 256.1 417.3 256.7 418.1 258.3 C419.0 259.9 418.6 261.5 418.7 262.5 L414.3 285 L400 345 L386.8 392.4 L384.4 400 L370.6 455.7 L345.4 543.6 L345.4 550.6 C338 557 317 555.5 307 546 L305 540.6 L306.2 536.6 L325.3 458 L338.3 403 L341.6 392.4 L352.9 345 L367.9 285 Z" fill="#fff" stroke="#111" stroke-width="1.3" stroke-linejoin="round" stroke-linecap="round" />
<path d="M373.6 253.4 C373.8 252.3 373.3 250.2 374.7 248.5 C376.1 246.8 375.6 246.4 379.5 246.0 C383.4 245.6 385.4 246.0 391.4 246.9 C397.4 247.7 400.8 248.4 405.3 249.6 C409.9 250.8 409.6 250.6 410.9 252.0 C412.2 253.4 409.9 254.7 410.9 255.5 C411.9 256.3 413.4 254.8 415.1 255.5 C416.7 256.1 417.3 256.7 418.1 258.3 C419.0 259.9 418.6 261.5 418.7 262.5" fill="none" stroke="#111" stroke-width="1.9" stroke-linejoin="round" stroke-linecap="round" />
<path d="M376.8 250.9 C377.7 249.7 378.8 248.9 381.6 248.5 C384.5 248.2 386.4 248.2 387.5 249.6 C388.5 251.1 387.3 252.6 385.5 253.8 C383.8 255.1 382.9 254.6 380.9 254.4 C379.0 254.2 379.3 253.9 378.2 253.0 C377.0 252.1 375.8 252.1 376.8 250.9 Z" fill="#111" stroke="#111" stroke-width="0.6" stroke-linejoin="round" stroke-linecap="round" />
<path d="M374.4 252.4 C375.3 253.0 375.5 253.5 377.5 254.4 C379.4 255.3 378.8 254.5 380.9 255.5 C383.0 256.5 381.3 256.1 384.4 257.6 C387.6 259.0 386.0 258.7 391.4 260.4 C396.8 262.0 396.7 262.1 402.5 263.2 C408.4 264.2 407.1 264.2 410.9 263.8 C414.6 263.5 413.5 263.3 415.1 261.9 C416.6 260.5 415.8 259.9 416.2 259.1" fill="none" stroke="#111" stroke-width="1.6" stroke-linejoin="round" stroke-linecap="round" />
<path d="M386.9 249.9 C386.7 251.2 385.2 252.0 386.1 254.1 C387.0 256.2 386.7 255.5 390.0 256.9 C393.2 258.2 392.4 257.8 397.0 258.6 C401.5 259.3 402.8 259.1 405.3 259.4" fill="none" stroke="#111" stroke-width="0.9" stroke-linejoin="round" stroke-linecap="round" />
<path d="M379.5 255.5 C380.6 256.3 382.1 256.0 383.0 258.3 C384.0 260.6 383.5 261.4 382.7 263.2 C382.0 264.9 381.6 264.5 380.5 264.1 C379.4 263.7 379.5 262.5 379.1 261.8" fill="none" stroke="#111" stroke-width="1.1" stroke-linejoin="round" stroke-linecap="round" />
<path d="M407.4 252.7 C407.3 255.3 407.1 257.9 407.0 260.5" fill="none" stroke="#111" stroke-width="1.0" stroke-linejoin="round" stroke-linecap="round" />
<path d="M415.6 266.0 L413.3 277.8 L410.9 289.6 L408.1 301.4 L405.3 313.2 L402.5 325.1 L399.7 336.9 L396.8 348.7 L393.5 360.5 L390.3 372.3 L387.0 384.1 L383.6 395.9 L380.5 407.8 L377.6 419.6 L374.7 431.4 L371.8 443.2 L368.9 455.0 L362.7 455.0 L365.6 443.2 L368.5 431.4 L371.3 419.6 L374.2 407.8 L377.4 395.9 L380.8 384.1 L384.0 372.3 L387.3 360.5 L390.5 348.7 L393.5 336.9 L396.2 325.1 L399.0 313.2 L401.8 301.4 L404.6 289.6 L407.0 277.8 L409.3 266.0 Z" fill="#111" stroke="none" stroke-width="0" stroke-linejoin="round" stroke-linecap="round" />
<path d="M405.8 268.0 L403.5 279.7 L401.0 291.4 L398.2 303.1 L395.4 314.8 L392.6 326.4 L389.8 338.1 L386.9 349.8 L383.6 361.5 L380.4 373.2 L377.1 384.9 L373.7 396.6 L370.6 408.2 L367.7 419.9 L364.8 431.6 L361.9 443.3 L359.0 455.0" fill="none" stroke="#333" stroke-width="0.8" stroke-linejoin="round" stroke-linecap="round" />
<path d="M403.3 268.0 L401.0 279.7 L398.5 291.4 L395.7 303.1 L392.9 314.8 L390.1 326.4 L387.3 338.1 L384.4 349.8 L381.1 361.5 L377.9 373.2 L374.6 384.9 L371.2 396.6 L368.1 408.2 L365.2 419.9 L362.3 431.6 L359.4 443.3 L356.5 455.0" fill="none" stroke="#555" stroke-width="0.7" stroke-linejoin="round" stroke-linecap="round" />
<path d="M366.1 466.0 L365.2 469.2 L364.3 472.5 L363.4 475.8 L362.5 479.0 L361.6 482.2 L360.6 485.5 L359.7 488.8 L358.8 492.0 L350.8 492.0 L351.1 488.8 L351.4 485.5 L351.7 482.2 L352.0 479.0 L352.3 475.8 L352.6 472.5 L352.9 469.2 L353.1 466.0 Z" fill="#111" stroke="none" stroke-width="0" stroke-linejoin="round" stroke-linecap="round" />
<path d="M358.9 491.5 L357.1 497.9 L355.3 504.4 L353.5 510.8 L351.7 517.2 L349.8 523.7 L348.0 530.1 L346.2 536.6 L344.4 543.0 L339.4 543.0 L340.8 536.6 L342.3 530.1 L343.7 523.7 L345.2 517.2 L346.6 510.8 L348.0 504.4 L349.5 497.9 L350.9 491.5 Z" fill="#111" stroke="none" stroke-width="0" stroke-linejoin="round" stroke-linecap="round" />
<path d="M350.4 486.0 L347.8 495.2 L345.2 504.3 L342.5 513.5 L339.9 522.7 L337.3 531.8 L334.6 541.0" fill="none" stroke="#333" stroke-width="0.8" stroke-linejoin="round" stroke-linecap="round" />
<path d="M347.4 486.0 L344.8 495.2 L342.2 504.3 L339.5 513.5 L336.9 522.7 L334.3 531.8 L331.6 541.0" fill="none" stroke="#555" stroke-width="0.7" stroke-linejoin="round" stroke-linecap="round" />
<path d="M306 537 C315 545 333 548 345.4 543.6" fill="none" stroke="#111" stroke-width="1.0" stroke-linejoin="round" stroke-linecap="round" />
<path d="M305.5 541 C315 549 333 552 345.4 547" fill="none" stroke="#444" stroke-width="0.8" stroke-linejoin="round" stroke-linecap="round" />
<path d="M306 544 C316 552.5 333 555 345.4 549.5" fill="none" stroke="#666" stroke-width="0.7" stroke-linejoin="round" stroke-linecap="round" />
<path d="M264.3 243.1 C265.5 244.2 266.3 244.8 266.9 247.2 C267.4 249.6 267.5 249.3 266.6 252.1 C265.6 254.9 265.2 255.1 263.4 257.7 C261.5 260.2 261.1 257.5 259.6 261.6 C258.1 265.7 258.8 267.0 257.8 273.0 C256.8 279.0 256.1 279.3 255.7 284.1 C255.3 289.0 256.2 287.9 256.4 291.1 C256.6 294.3 257.3 293.2 256.5 296.0 C255.8 298.8 256.4 299.7 253.6 301.5 C250.8 303.4 250.2 303.3 246.0 302.9 C241.7 302.6 241.9 302.4 237.6 300.2 C233.3 297.9 233.7 298.1 229.9 294.6 C226.2 291.1 226.1 291.2 223.7 286.9 C221.3 282.7 221.4 282.8 220.9 278.6 C220.3 274.3 220.3 275.0 221.6 270.9 C222.9 266.8 222.6 266.6 225.8 263.2 C228.9 259.9 228.8 260.4 233.4 258.4 C238.1 256.3 238.0 256.9 243.2 255.6 C248.4 254.3 248.7 255.4 252.9 253.5 C257.2 251.6 256.6 251.4 259.2 248.6 C261.8 245.8 261.3 244.5 262.7 243.1 C264.0 241.6 263.2 241.9 264.3 243.1 Z" fill="#fff" stroke="#111" stroke-width="1.5" stroke-linejoin="round" stroke-linecap="round" />
<path d="M261.3 250.0 C260.4 251.6 261.3 252.1 258.5 254.9 C255.7 257.7 258.0 256.5 252.9 258.4 C247.8 260.2 249.2 258.8 243.2 260.5 C237.1 262.1 239.2 260.5 234.8 263.2 C230.4 266.0 232.3 264.2 229.9 268.8 C227.6 273.5 227.9 271.6 227.9 277.2 C227.9 282.7 227.4 280.4 229.9 285.5 C232.5 290.6 231.9 289.0 235.5 292.5 C239.1 296.0 239.0 294.9 240.7 296.1" fill="none" stroke="#111" stroke-width="1.0" stroke-linejoin="round" stroke-linecap="round" />
<path d="M222.0 278.6 C221.8 280.4 221.7 282.7 224.4 286.9 C227.0 291.2 227.9 291.5 232.0 294.6 C236.1 297.6 239.0 298.9 239.7 298.3 C240.4 297.8 237.4 295.9 234.8 292.5 C232.2 289.1 231.8 289.2 229.9 285.5 C228.1 281.8 229.2 280.1 227.9 278.6 C226.6 277.1 226.6 280.0 225.1 280.0 C223.5 280.0 222.2 276.7 222.0 278.6 Z" fill="#111" stroke="#111" stroke-width="0.5" stroke-linejoin="round" stroke-linecap="round" />
<path d="M231.3 286.2 C231.8 288.3 233.0 290.0 235.9 292.5 C238.9 295.0 241.6 295.9 242.5 295.6 C243.4 295.2 241.5 294.0 239.3 291.1 C237.0 288.2 236.2 286.1 234.1 284.8 C232.0 283.5 230.9 284.2 231.3 286.2 Z" fill="#111" stroke="#111" stroke-width="0.5" stroke-linejoin="round" stroke-linecap="round" />
<path d="M251.8 264.6 C252.3 263.7 258.8 260.9 259.1 261.6 C259.3 262.2 255.3 270.6 254.6 270.9 C253.9 271.2 251.4 265.6 251.8 264.6 Z" fill="#111" stroke="#111" stroke-width="0.5" stroke-linejoin="round" stroke-linecap="round" />
<path d="M239.7 271.6 C237.6 271.4 234.5 269.5 231.8 270.8 C229.0 272.1 229.3 273.4 229.2 276.5 C229.2 279.5 228.7 280.4 231.5 282.2 C234.3 284.0 237.5 283.0 239.7 283.3" fill="#fff" stroke="#111" stroke-width="1.2" stroke-linejoin="round" stroke-linecap="round" />
<ellipse cx="239.7" cy="277.5" rx="4.6" ry="5.9" transform="rotate(8 239.7 277.5)" fill="#fff" stroke="#111" stroke-width="1.3" />
<ellipse cx="240.4" cy="277.6" rx="1.9" ry="3.2" transform="rotate(8 240.4 277.6)" fill="#fff" stroke="#111" stroke-width="1.0" />
<path d="M229.9 278.3 C231.8 278.9 233.7 279.6 235.5 280.2" fill="none" stroke="#111" stroke-width="1.5" stroke-linejoin="round" stroke-linecap="round" />
<path d="M323.6 289.7 C327 286 331 283.2 336 281 C341 278.8 346 277.5 352 276.7 C358 276 364 275.5 369.4 275.5 L355.8 333 C352 331 349.5 329 347.1 326.9 C343 324 339 321.8 334.7 319.4 C331 317.5 328.5 316.2 326 314.5 C323.5 312.5 322 310 321.1 307 L322.3 305.8 Z" fill="#fff" stroke="#111" stroke-width="1.4" stroke-linejoin="round" stroke-linecap="round" />
<path d="M325.4 292.2 C329 288.5 333 286 337.2 284.1 C342 282 347 280.6 353.3 279.8 C356.5 279.4 359 279.2 361.3 279.2" fill="none" stroke="#111" stroke-width="1.0" stroke-linejoin="round" stroke-linecap="round" />
<path d="M361.3 279.2 L368.7 277.3 L359.5 320 L354.5 329.4 L348.3 325.6 C353 320.5 356.5 316 358.2 313.2 C361 306 362.5 298 363.2 291 C363.3 286.5 362.5 282.5 361.3 279.2 Z" fill="#111" stroke="none" stroke-width="1.1" stroke-linejoin="round" stroke-linecap="round" />
<path d="M321.1 307 C322 310.5 324 312.8 326 314.5 L334.7 320 C331.5 316.5 329.5 314.2 329.8 313.2 C326.5 312 324 309.8 321.1 307 Z" fill="#111" stroke="none" stroke-width="1.1" stroke-linejoin="round" stroke-linecap="round" />
<path d="M336 318 C339 320.5 343 322.5 346 323.5 L347.1 326.9 L336.5 320.3 Z" fill="#111" stroke="none" stroke-width="1.1" stroke-linejoin="round" stroke-linecap="round" />
<path d="M323.6 289.7 C320.5 289.3 317 291.2 315.3 294.2 C314.2 297 314.5 300.2 315.5 302.1 C317.5 304.5 320 305.6 322.3 305.8" fill="#fff" stroke="#111" stroke-width="1.3" stroke-linejoin="round" stroke-linecap="round" />
<path d="M319.2 291 C317.8 294.5 317.5 299.5 318.6 303.8" fill="none" stroke="#111" stroke-width="0.9" stroke-linejoin="round" stroke-linecap="round" />
<ellipse cx="334.8" cy="302.2" rx="3.0" ry="4.8" transform="rotate(12 334.8 302.2)" fill="#fff" stroke="#111" stroke-width="1.1" />
<clipPath id="c7"><ellipse cx="334.8" cy="302.2" rx="3.0" ry="4.8" transform="rotate(12 334.8 302.2)"/></clipPath>
<g clip-path="url(#c7)">
<ellipse cx="334.8" cy="302.2" rx="3.0" ry="4.8" transform="rotate(12 334.8 302.2)" fill="#111" stroke="none" stroke-width="0" />
<ellipse cx="336.4" cy="303.0" rx="3.0" ry="4.8" transform="rotate(12 336.4 303.0)" fill="#fff" stroke="none" stroke-width="0" />
</g>
<path d="M343.6 297.5 C344.8 299 344.8 301.5 344 303" fill="none" stroke="#111" stroke-width="1.6" stroke-linejoin="round" stroke-linecap="round" />
<path d="M358.0 262.0 L357.5 263.9 L357.1 265.8 L356.7 267.6 L356.2 269.5 L355.8 271.4 L355.3 273.2 L355.0 275.1 L354.6 277.0 L349.6 277.0 L350.0 275.1 L350.3 273.2 L350.8 271.4 L351.2 269.5 L351.7 267.6 L352.1 265.8 L352.5 263.9 L353.0 262.0 Z" fill="#111" stroke="none" stroke-width="0" stroke-linejoin="round" stroke-linecap="round" />
<path d="M182.0 401.8 L176.0 402.3 L173.5 405.5 L174.0 409.5 L180.9 415.8 L193.4 421.3 L206.0 424.1 L218.5 424.8 L224.0 426.2 L250.0 430.4 L280.0 434.4 L306.4 444.5 L324.5 458.6 L335.0 464.5 L346.3 468.7 L362.5 468.7 L372.3 464.3 L373.9 458.9 L371.2 455.7 L369.5 458.9 L366.8 462.2 L358.2 464.3 L343.0 462.2 L330.0 455.7 L326.5 451.0 L331.0 434.0 L296.3 420.4 L291.3 418.3 L290.5 411.5 L288.3 411.3 L288.3 418.3 L240.0 408.3 L222.7 405.3 L220.0 419.0 L215.7 419.2 L207.4 420.0 L194.8 417.9 L183.7 413.0 L178.8 408.1 L181.0 405.3 Z" fill="#fff" stroke="none" stroke-width="1.2" stroke-linejoin="round" stroke-linecap="round" />
<path d="M182.0 401.8 C180.0 402.0 178.8 401.1 176.0 402.3 C173.2 403.5 174.2 403.1 173.5 405.5 C172.8 407.9 171.5 406.1 174.0 409.5 C176.5 412.9 174.4 411.9 180.9 415.8 C187.4 419.7 185.0 418.5 193.4 421.3 C201.8 424.1 197.6 422.9 206.0 424.1 C214.4 425.3 212.5 424.1 218.5 424.8 C224.5 425.5 213.5 424.3 224.0 426.2 C234.5 428.1 231.3 427.7 250.0 430.4 C268.7 433.1 261.2 429.7 280.0 434.4 C298.8 439.1 291.6 436.4 306.4 444.5 C321.2 452.6 315.0 451.9 324.5 458.6 C334.0 465.3 327.7 461.1 335.0 464.5 C342.3 467.9 337.1 467.3 346.3 468.7 C355.5 470.1 353.8 470.2 362.5 468.7 C371.2 467.2 368.5 467.6 372.3 464.3 C376.1 461.0 374.3 461.8 373.9 458.9 C373.5 456.0 372.1 456.8 371.2 455.7" fill="none" stroke="#111" stroke-width="1.3" stroke-linejoin="round" stroke-linecap="round" />
<path d="M369.5 458.9 C368.6 460.0 370.6 460.4 366.8 462.2 C363.0 464.0 366.1 464.3 358.2 464.3 C350.3 464.3 352.4 465.1 343.0 462.2 C333.6 459.3 335.5 459.4 330.0 455.7 C324.5 452.0 327.7 452.6 326.5 451.0" fill="none" stroke="#111" stroke-width="1.1" stroke-linejoin="round" stroke-linecap="round" />
<path d="M331 434 C320 429 308 424.5 296.3 420.4 L291.3 418.3 L290.5 411.5 L288.3 411.3 L288.3 418.3 C272 414 256 411 240 408.3 L222.7 405.3" fill="none" stroke="#111" stroke-width="1.2" stroke-linejoin="round" stroke-linecap="round" />
<path d="M220.0 419.0 C218.6 419.1 219.9 418.9 215.7 419.2 C211.5 419.5 214.4 420.4 207.4 420.0 C200.4 419.6 202.7 420.2 194.8 417.9 C186.9 415.6 189.0 416.3 183.7 413.0 C178.4 409.7 179.7 410.7 178.8 408.1 C177.9 405.5 180.3 406.2 181.0 405.3" fill="none" stroke="#111" stroke-width="1.1" stroke-linejoin="round" stroke-linecap="round" />
<ellipse cx="239.4" cy="417.2" rx="8.4" ry="3.7" transform="rotate(10 239.4 417.2)" fill="#fff" stroke="#111" stroke-width="1.2" />
<path d="M232.5 416.1 A7.6 3.0 10 0 1 246.6 418.6" fill="none" stroke="#111" stroke-width="0.8" stroke-linejoin="round" stroke-linecap="round" />
<ellipse cx="280.0" cy="429.6" rx="4.0" ry="1.8" transform="rotate(10 280.0 429.6)" fill="#fff" stroke="#111" stroke-width="1.0" />
<ellipse cx="322.5" cy="440.7" rx="4.2" ry="1.9" transform="rotate(18 322.5 440.7)" fill="#fff" stroke="#111" stroke-width="1.0" />
<path d="M316.5 428.5 L316 436 M329 434 L326.5 444" fill="none" stroke="#111" stroke-width="0.9" stroke-linejoin="round" stroke-linecap="round" />
<path d="M275.6 377 L273.8 387.8 C275.5 389.6 278.5 390 279.9 389 L282.2 377.5 Z" fill="#fff" stroke="#111" stroke-width="1.5" stroke-linejoin="round" stroke-linecap="round" />
<line x1="275.6" y1="380.0" x2="281.2" y2="381.0" stroke="#444" stroke-width="0.7" stroke-linecap="round"/>
<line x1="275.3" y1="382.3" x2="280.9" y2="383.3" stroke="#444" stroke-width="0.7" stroke-linecap="round"/>
<line x1="275.0" y1="384.6" x2="280.6" y2="385.6" stroke="#444" stroke-width="0.7" stroke-linecap="round"/>
<line x1="274.7" y1="386.9" x2="280.3" y2="387.9" stroke="#444" stroke-width="0.7" stroke-linecap="round"/>
<path d="M273.3 372.2 L277 368.4 C280 367.6 283 367.7 284.8 368.2 L288.4 371.6 L288 375.6 L284.2 377.9 C281 378 278.5 377.6 276 377 L273.4 374.6 Z" fill="#fff" stroke="#111" stroke-width="1.4" stroke-linejoin="round" stroke-linecap="round" />
<path d="M273.3 372.2 L276.5 374 L284 374.6 L288.4 371.6" fill="none" stroke="#111" stroke-width="0.8" stroke-linejoin="round" stroke-linecap="round" />
<path d="M284 374.6 L288.4 371.6 L288 375.6 L284.2 377.9 Z" fill="#111" stroke="#111" stroke-width="0.8" stroke-linejoin="round" stroke-linecap="round" />
<ellipse cx="275.3" cy="395.8" rx="8.5" ry="4.6" transform="rotate(8 275.3 395.8)" fill="#fff" stroke="#111" stroke-width="1.5" />
<ellipse cx="275.5" cy="395.2" rx="4.3" ry="2.1" transform="rotate(8 275.5 395.2)" fill="#333" stroke="#111" stroke-width="1.0" />
<ellipse cx="129.9" cy="360.3" rx="16.0" ry="22.6" transform="rotate(2 129.9 360.3)" fill="#fff" stroke="#111" stroke-width="1.4" />
<clipPath id="c8"><ellipse cx="129.9" cy="360.3" rx="16.0" ry="22.6" transform="rotate(2 129.9 360.3)"/></clipPath>
<g clip-path="url(#c8)">
<ellipse cx="129.9" cy="360.3" rx="16.0" ry="22.6" transform="rotate(2 129.9 360.3)" fill="#111" stroke="none" stroke-width="0" />
<ellipse cx="132.7" cy="357.7" rx="16.0" ry="22.6" transform="rotate(2 132.7 357.7)" fill="#fff" stroke="none" stroke-width="0" />
</g>
<ellipse cx="129.9" cy="360.3" rx="16.0" ry="22.6" transform="rotate(2 129.9 360.3)" fill="none" stroke="#111" stroke-width="1.4" />
<ellipse cx="133.2" cy="359.6" rx="15.8" ry="22.6" transform="rotate(2 133.2 359.6)" fill="#fff" stroke="#111" stroke-width="1.3" />
<path d="M133 362.5 L145.5 364.6 M136 357.7 L145 359.2" fill="none" stroke="#111" stroke-width="1.1" stroke-linejoin="round" stroke-linecap="round" />
<path d="M132.5 364 C133.5 366.5 136 366.5 137 364.3 L133.2 362.5 Z" fill="#111" stroke="#111" stroke-width="0.8" stroke-linejoin="round" stroke-linecap="round" />
<ellipse cx="163.9" cy="367.5" rx="19.3" ry="23.0" transform="rotate(-4 163.9 367.5)" fill="#fff" stroke="#111" stroke-width="1.5" />
<path d="M164 344.6 C166.5 355 166.5 372 159.5 390" fill="none" stroke="#111" stroke-width="1.3" stroke-linejoin="round" stroke-linecap="round" />
<clipPath id="cupL"><ellipse cx="163.9" cy="367.5" rx="18.5" ry="22.2" transform="rotate(-4 163.9 367.5)"/></clipPath>
<g clip-path="url(#cupL)" fill="#111" stroke="none">
<path d="M165.5 347 C171 347 176 352 177 360 C172 358 170 366 166.5 371 C167 362 167 354 165.5 347 Z" opacity="0.85"/>
<path d="M147 372 C148 380 152 387 159 390 C162 384 164 378 164.5 372 C158 377 152 378 147 372 Z" opacity="0.8"/>
<path d="M151 352 C154 347.5 159 345.5 163.5 346 L164 352 C159 350 155 351 151 352 Z" opacity="0.7"/>
<path d="M166 378 C170 382 176 381 180 375 C178 385 170 391 161 390 Z" opacity="0.55"/>
</g>
<g clip-path="url(#cupL)"><ellipse cx="156" cy="368" rx="8" ry="20" fill="url(#stip)" opacity="0.7"/><ellipse cx="173" cy="368" rx="8" ry="19" fill="url(#stip2)" opacity="0.75"/></g>
<path d="M189.5 352 L187.5 361 L184 366.5 L183.2 380.5 L181.8 390.5" fill="none" stroke="#111" stroke-width="1.1" stroke-linejoin="round" stroke-linecap="round" />
<path d="M188 356 L185 363 L181.5 367" fill="none" stroke="#111" stroke-width="0.9" stroke-linejoin="round" stroke-linecap="round" />
<path d="M381.8 397.7 C382.7 397.1 384.2 398.0 384.7 399.9 C385.3 401.8 383.7 403.9 384.2 405.8 C384.6 407.8 385.4 406.3 386.6 408.2 C387.7 410.1 388.1 411.1 389.0 414.0 C390.0 416.8 391.2 417.4 390.7 420.5 C390.2 423.6 388.9 425.0 386.9 427.3 C384.9 429.6 384.2 429.1 382.2 430.2 C380.2 431.3 379.5 430.4 378.2 431.8 C376.9 433.2 377.6 434.1 376.8 436.2 C376.0 438.2 375.6 439.8 374.6 440.7 C373.6 441.6 372.7 441.3 372.5 440.0 C372.2 438.6 372.7 437.4 373.6 435.1 C374.4 432.8 375.1 433.2 376.0 430.2 C377.0 427.2 376.9 426.5 377.7 422.1 C378.4 417.7 378.5 415.8 379.3 411.3 C380.1 406.7 380.3 405.7 380.9 402.6 C381.5 399.4 380.9 398.3 381.8 397.7 Z" fill="#fff" stroke="#111" stroke-width="1.2" stroke-linejoin="round" stroke-linecap="round" />
<path d="M377.7 407.1 C378.5 406.6 379.3 405.3 380.9 405.0 C382.5 404.7 382.9 405.8 383.6 406.1" fill="none" stroke="#111" stroke-width="0.9" stroke-linejoin="round" stroke-linecap="round" />
<path d="M376.8 417.2 C377.8 416.5 378.7 415.2 380.7 414.7 C382.7 414.3 383.2 415.4 384.2 415.6" fill="none" stroke="#111" stroke-width="0.9" stroke-linejoin="round" stroke-linecap="round" />
<ellipse cx="383.1" cy="423.4" rx="1.5" ry="2.2" transform="rotate(10 383.1 423.4)" fill="#111" stroke="#111" stroke-width="0.8" />
<path d="M379.3 427.5 C379.7 426.8 379.6 425.1 380.9 424.8 C382.2 424.5 383.3 426.0 384.2 426.4" fill="none" stroke="#111" stroke-width="0.9" stroke-linejoin="round" stroke-linecap="round" />
<path d="M406.6 407.9 C412.6 407.9 410.0 407.3 416.0 410.7 C422.0 414.0 420.5 412.1 424.5 418.0 C428.5 423.8 427.4 421.1 427.9 428.2 C428.5 435.3 428.8 432.5 426.2 439.3 C423.7 446.1 425.7 443.8 420.3 448.7 C414.9 453.5 416.6 452.6 410.0 453.8 C403.5 454.9 406.3 454.6 400.7 452.1 C395.0 449.5 397.1 451.2 393.0 446.1 C388.9 441.0 389.9 443.0 388.4 436.7 C386.9 430.5 387.4 433.6 388.4 427.4 C389.4 421.1 388.1 423.6 391.3 418.0 C394.5 412.4 393.0 414.0 398.1 410.7 C403.2 407.3 400.7 407.9 406.6 407.9 Z" fill="#fff" stroke="#111" stroke-width="1.5" stroke-linejoin="round" stroke-linecap="round" />
<ellipse cx="411.4" cy="430.4" rx="15.6" ry="20.6" transform="rotate(10 411.4 430.4)" fill="none" stroke="#111" stroke-width="1.0" />
<clipPath id="cupR"><path d="M406.6 407.9 C412.6 407.9 410.0 407.3 416.0 410.7 C422.0 414.0 420.5 412.1 424.5 418.0 C428.5 423.8 427.4 421.1 427.9 428.2 C428.5 435.3 428.8 432.5 426.2 439.3 C423.7 446.1 425.7 443.8 420.3 448.7 C414.9 453.5 416.6 452.6 410.0 453.8 C403.5 454.9 406.3 454.6 400.7 452.1 C395.0 449.5 397.1 451.2 393.0 446.1 C388.9 441.0 389.9 443.0 388.4 436.7 C386.9 430.5 387.4 433.6 388.4 427.4 C389.4 421.1 388.1 423.6 391.3 418.0 C394.5 412.4 393.0 414.0 398.1 410.7 C403.2 407.3 400.7 407.9 406.6 407.9 Z"/></clipPath>
<g clip-path="url(#cupR)" fill="#111" stroke="none">
<path d="M388.4 435.0 C388.0 429.9 388.6 432.8 390.1 429.1 C391.6 425.4 391.2 423.1 393.0 424.0 C394.8 424.8 394.7 426.5 395.6 431.6 C396.4 436.7 393.6 434.5 395.6 439.3 C397.5 444.1 396.7 442.7 401.5 446.1 C406.3 449.5 404.1 449.5 410.0 449.5 C416.0 449.5 415.7 446.6 419.4 446.1 C423.1 445.7 423.9 445.6 421.1 448.2 C418.3 450.7 418.3 452.5 410.9 453.8 C403.5 455.1 405.5 455.2 399.0 452.1 C392.4 448.9 394.8 450.1 391.3 444.4 C387.8 438.7 388.8 440.1 388.4 435.0 Z" opacity="0.88"/>
<path d="M395.6 412.9 C397.5 410.6 397.8 409.9 404.1 409.3 C410.3 408.7 408.6 408.6 414.3 411.2 C420.0 413.8 421.7 416.2 421.1 417.1 C420.5 418.1 418.3 415.3 412.6 414.1 C406.9 412.8 408.9 412.7 404.1 413.4 C399.2 414.1 400.9 416.5 398.1 416.3 C395.3 416.1 393.6 415.2 395.6 412.9 Z" opacity="0.55"/>
<path d="M404.1 444.4 C405.2 445.4 407.5 446.7 412.6 446.1 C417.7 445.5 416.6 445.5 419.4 442.7 C422.2 439.9 422.2 437.9 421.1 437.6 C420.0 437.3 420.0 440.0 416.0 441.8 C412.0 443.7 413.2 442.2 409.2 443.0 C405.2 443.9 402.9 443.4 404.1 444.4 Z" opacity="0.4"/>
</g>
<g clip-path="url(#cupR)"><ellipse cx="412.4" cy="433.4" rx="12" ry="15" transform="rotate(10 411.4 430.4)" fill="url(#stip)" opacity="0.75"/><ellipse cx="408.4" cy="418.4" rx="11" ry="5" transform="rotate(-20 411.4 430.4)" fill="url(#stip2)" opacity="0.8"/></g>
<ellipse cx="414.6" cy="432.1" rx="1.3" ry="3.6" transform="rotate(8 414.6 432.1)" fill="#111" stroke="#111" stroke-width="0.5" />
<path d="M433.0 433.6 L438.2 433.2 L438.6 439.2 L433.4 439.6 Z" fill="#fff" stroke="#111" stroke-width="1.1" stroke-linejoin="round" stroke-linecap="round" />
<ellipse cx="454.7" cy="441.0" rx="16.6" ry="22.8" transform="rotate(15 454.7 441.0)" fill="#fff" stroke="#111" stroke-width="1.4" />
<ellipse cx="457.4" cy="440.0" rx="14.6" ry="21.4" transform="rotate(15 457.4 440.0)" fill="#fff" stroke="#111" stroke-width="1.1" />
<clipPath id="refR"><ellipse cx="457.9" cy="439.6" rx="12.6" ry="19.4" transform="rotate(15 457.9 439.6)"/></clipPath>
<g clip-path="url(#refR)" stroke="#444" stroke-width="0.65">
<line x1="361.8" y1="410" x2="415.8" y2="478"/>
<line x1="415.8" y1="410" x2="361.8" y2="478"/>
<line x1="364.9" y1="410" x2="418.9" y2="478"/>
<line x1="418.9" y1="410" x2="364.9" y2="478"/>
<line x1="368.0" y1="410" x2="422.0" y2="478"/>
<line x1="422.0" y1="410" x2="368.0" y2="478"/>
<line x1="371.1" y1="410" x2="425.1" y2="478"/>
<line x1="425.1" y1="410" x2="371.1" y2="478"/>
<line x1="374.2" y1="410" x2="428.2" y2="478"/>
<line x1="428.2" y1="410" x2="374.2" y2="478"/>
<line x1="377.3" y1="410" x2="431.3" y2="478"/>
<line x1="431.3" y1="410" x2="377.3" y2="478"/>
<line x1="380.4" y1="410" x2="434.4" y2="478"/>
<line x1="434.4" y1="410" x2="380.4" y2="478"/>
<line x1="383.5" y1="410" x2="437.5" y2="478"/>
<line x1="437.5" y1="410" x2="383.5" y2="478"/>
<line x1="386.6" y1="410" x2="440.6" y2="478"/>
<line x1="440.6" y1="410" x2="386.6" y2="478"/>
<line x1="389.7" y1="410" x2="443.7" y2="478"/>
<line x1="443.7" y1="410" x2="389.7" y2="478"/>
<line x1="392.8" y1="410" x2="446.8" y2="478"/>
<line x1="446.8" y1="410" x2="392.8" y2="478"/>
<line x1="395.9" y1="410" x2="449.9" y2="478"/>
<line x1="449.9" y1="410" x2="395.9" y2="478"/>
<line x1="399.0" y1="410" x2="453.0" y2="478"/>
<line x1="453.0" y1="410" x2="399.0" y2="478"/>
<line x1="402.1" y1="410" x2="456.1" y2="478"/>
<line x1="456.1" y1="410" x2="402.1" y2="478"/>
<line x1="405.2" y1="410" x2="459.2" y2="478"/>
<line x1="459.2" y1="410" x2="405.2" y2="478"/>
<line x1="408.3" y1="410" x2="462.3" y2="478"/>
<line x1="462.3" y1="410" x2="408.3" y2="478"/>
<line x1="411.4" y1="410" x2="465.4" y2="478"/>
<line x1="465.4" y1="410" x2="411.4" y2="478"/>
<line x1="414.5" y1="410" x2="468.5" y2="478"/>
<line x1="468.5" y1="410" x2="414.5" y2="478"/>
<line x1="417.6" y1="410" x2="471.6" y2="478"/>
<line x1="471.6" y1="410" x2="417.6" y2="478"/>
<line x1="420.7" y1="410" x2="474.7" y2="478"/>
<line x1="474.7" y1="410" x2="420.7" y2="478"/>
<line x1="423.8" y1="410" x2="477.8" y2="478"/>
<line x1="477.8" y1="410" x2="423.8" y2="478"/>
<line x1="426.9" y1="410" x2="480.9" y2="478"/>
<line x1="480.9" y1="410" x2="426.9" y2="478"/>
<line x1="430.0" y1="410" x2="484.0" y2="478"/>
<line x1="484.0" y1="410" x2="430.0" y2="478"/>
<line x1="433.1" y1="410" x2="487.1" y2="478"/>
<line x1="487.1" y1="410" x2="433.1" y2="478"/>
<line x1="436.2" y1="410" x2="490.2" y2="478"/>
<line x1="490.2" y1="410" x2="436.2" y2="478"/>
<line x1="439.3" y1="410" x2="493.3" y2="478"/>
<line x1="493.3" y1="410" x2="439.3" y2="478"/>
<line x1="442.4" y1="410" x2="496.4" y2="478"/>
<line x1="496.4" y1="410" x2="442.4" y2="478"/>
<line x1="445.5" y1="410" x2="499.5" y2="478"/>
<line x1="499.5" y1="410" x2="445.5" y2="478"/>
<line x1="448.6" y1="410" x2="502.6" y2="478"/>
<line x1="502.6" y1="410" x2="448.6" y2="478"/>
<line x1="451.7" y1="410" x2="505.7" y2="478"/>
<line x1="505.7" y1="410" x2="451.7" y2="478"/>
<line x1="454.8" y1="410" x2="508.8" y2="478"/>
<line x1="508.8" y1="410" x2="454.8" y2="478"/>
<line x1="457.9" y1="410" x2="511.9" y2="478"/>
<line x1="511.9" y1="410" x2="457.9" y2="478"/>
<line x1="461.0" y1="410" x2="515.0" y2="478"/>
<line x1="515.0" y1="410" x2="461.0" y2="478"/>
<line x1="464.1" y1="410" x2="518.1" y2="478"/>
<line x1="518.1" y1="410" x2="464.1" y2="478"/>
<line x1="467.2" y1="410" x2="521.2" y2="478"/>
<line x1="521.2" y1="410" x2="467.2" y2="478"/>
<line x1="470.3" y1="410" x2="524.3" y2="478"/>
<line x1="524.3" y1="410" x2="470.3" y2="478"/>
<line x1="473.4" y1="410" x2="527.4" y2="478"/>
<line x1="527.4" y1="410" x2="473.4" y2="478"/>
<line x1="476.5" y1="410" x2="530.5" y2="478"/>
<line x1="530.5" y1="410" x2="476.5" y2="478"/>
<line x1="479.6" y1="410" x2="533.6" y2="478"/>
<line x1="533.6" y1="410" x2="479.6" y2="478"/>
<line x1="482.7" y1="410" x2="536.7" y2="478"/>
<line x1="536.7" y1="410" x2="482.7" y2="478"/>
<line x1="485.8" y1="410" x2="539.8" y2="478"/>
<line x1="539.8" y1="410" x2="485.8" y2="478"/>
<line x1="488.9" y1="410" x2="542.9" y2="478"/>
<line x1="542.9" y1="410" x2="488.9" y2="478"/>
<line x1="492.0" y1="410" x2="546.0" y2="478"/>
<line x1="546.0" y1="410" x2="492.0" y2="478"/>
<line x1="495.1" y1="410" x2="549.1" y2="478"/>
<line x1="549.1" y1="410" x2="495.1" y2="478"/>
<line x1="498.2" y1="410" x2="552.2" y2="478"/>
<line x1="552.2" y1="410" x2="498.2" y2="478"/>
</g>
<path d="M439.0 450.5 C439.0 452.2 439.3 454.1 442.9 458.2 C446.5 462.3 448.3 462.5 449.7 462.8 C451.1 463.1 449.4 462.3 447.2 459.1 C444.9 455.8 445.6 455.9 442.9 453.1 C440.2 450.3 439.0 448.8 439.0 450.5 Z" fill="#111" stroke="#111" stroke-width="0.6" stroke-linejoin="round" stroke-linecap="round" />
<path d="M69.5 462 C70.5 455 71.5 450 73 445 C76 436 81 426 87.5 418.5" fill="none" stroke="#111" stroke-width="1.0" stroke-linejoin="round" stroke-linecap="round" />
<path d="M72.5 462.5 C73.5 455 75 450 76.5 446" fill="none" stroke="#111" stroke-width="1.0" stroke-linejoin="round" stroke-linecap="round" />
<path d="M72.8 443.5 C76.5 434 81.5 425.5 88.2 418 L93 421.8 C87 429 82 437.5 78.8 446.5 Z" fill="#fff" stroke="#111" stroke-width="1.2" stroke-linejoin="round" stroke-linecap="round" />
<path d="M89.5 418.5 C94 412 100 405.5 106.5 400.5 M91.5 420.5 C97 414 103 408 110.5 403.5" fill="none" stroke="#111" stroke-width="1.0" stroke-linejoin="round" stroke-linecap="round" />
<path d="M91.5 417 C96 411 101.5 405 108 399.5 M93.5 421.5 C99 415.5 105 410 112.5 406" fill="none" stroke="#111" stroke-width="1.0" stroke-linejoin="round" stroke-linecap="round" />
<path d="M107 399.5 L109 396.5 L118.5 388 L120.5 388.8 L120.3 391 L111.5 399.5 L108.5 401.5 Z" fill="#fff" stroke="#111" stroke-width="1.0" stroke-linejoin="round" stroke-linecap="round" />
<path d="M111.5 404.8 L113 401.5 L123.5 394.5 L126 395.8 L125.6 398.3 L115.5 405.5 L112.5 407 Z" fill="#fff" stroke="#111" stroke-width="1.0" stroke-linejoin="round" stroke-linecap="round" />
<path d="M106.5 404.5 L110 409.5 L112 408" fill="none" stroke="#111" stroke-width="1.2" stroke-linejoin="round" stroke-linecap="round" />
<path d="M51.8 456.4 C56.4 458.6 57.4 456.9 65.7 463.0 C74.1 469.1 71.0 466.2 76.9 474.8 C82.7 483.4 80.7 479.5 83.1 488.7 C85.5 498.0 84.8 492.9 84.1 502.7 C83.4 512.4 83.2 508.5 81.0 518.0 C78.8 527.5 80.8 527.0 77.5 531.2 C74.3 535.4 76.2 531.9 71.3 530.5 C66.4 529.1 65.7 528.2 62.9 527.0" fill="#fff" stroke="#111" stroke-width="1.3" stroke-linejoin="round" stroke-linecap="round" />
<ellipse cx="49.0" cy="491.3" rx="27.6" ry="36.4" transform="rotate(-26 49.0 491.3)" fill="#fff" stroke="#111" stroke-width="1.6" />
<ellipse cx="46.5" cy="493.8" rx="23.4" ry="31.4" transform="rotate(-26 46.5 493.8)" fill="none" stroke="#111" stroke-width="0.9" />
<path d="M20.9 481.8 C20.9 482.2 20.2 484.0 21.7 490.1 C23.2 496.3 24.8 498.3 25.3 500.2 C25.9 502.0 24.6 499.5 23.4 495.7 C22.2 491.9 22.5 493.4 21.7 488.7 C20.9 484.1 20.9 481.3 20.9 481.8 Z" fill="#111" stroke="#111" stroke-width="0.8" stroke-linejoin="round" stroke-linecap="round" />
<path d="M26.4 508.0 C26.4 509.4 27.1 510.9 30.9 515.2 C34.7 519.5 31.4 517.2 37.9 520.8 C44.4 524.4 45.7 525.1 50.4 526.1 C55.0 527.0 55.0 526.0 51.8 523.6 C48.5 521.1 47.6 522.9 40.6 518.7 C33.7 514.5 35.6 514.6 30.9 511.0 C26.2 507.5 26.4 506.6 26.4 508.0 Z" fill="#111" stroke="#111" stroke-width="0.6" stroke-linejoin="round" stroke-linecap="round" />
<line x1="29.1" y1="490.4" x2="31.2" y2="476.5" stroke="#111" stroke-width="3.6" stroke-linecap="round"/>
<line x1="38.8" y1="494.3" x2="47.9" y2="479.6" stroke="#111" stroke-width="3.8" stroke-linecap="round"/>
<line x1="42.0" y1="501.3" x2="57.6" y2="495.7" stroke="#111" stroke-width="4.0" stroke-linecap="round"/>
<line x1="42.9" y1="508.5" x2="58.1" y2="508.2" stroke="#111" stroke-width="3.4" stroke-linecap="round"/>
<line x1="36.7" y1="512.4" x2="47.0" y2="516.9" stroke="#111" stroke-width="3.4" stroke-linecap="round"/>
<circle cx="32.3" cy="502.0" r="4.6" fill="#fff" stroke="#111" stroke-width="1.4"/>
<circle cx="32.3" cy="502.0" r="2.0" fill="#fff" stroke="#111" stroke-width="1.0"/>
<circle cx="25.0" cy="471.3" r="1.7" fill="#fff" stroke="#111" stroke-width="1.0"/>
<circle cx="55.3" cy="471.3" r="1.7" fill="#fff" stroke="#111" stroke-width="1.0"/>
<circle cx="67.8" cy="514.5" r="1.7" fill="#fff" stroke="#111" stroke-width="1.0"/>
<path d="M78.5 492.2 C79.6 488.7 80.6 490.6 81.3 495.0 C82.1 499.4 81.4 497.8 80.8 505.5 C80.1 513.1 80.3 518.0 79.4 518.0 C78.4 518.0 78.2 514.0 78.0 505.5 C77.7 496.9 77.4 495.7 78.5 492.2 Z" fill="#111" stroke="#111" stroke-width="0.6" stroke-linejoin="round" stroke-linecap="round" />
<path d="M76.4 520.8 C84 518 92 517 98.5 516.8 L112 517 C117 517.3 120.5 519 121.5 522 C122 525.5 119.5 528.5 114.6 530 L82.4 533.2 C79 533.2 76 531.5 74.4 529" fill="#fff" stroke="#111" stroke-width="1.3" stroke-linejoin="round" stroke-linecap="round" />
<path d="M79.5 517.8 L77.2 531.5" fill="none" stroke="#111" stroke-width="1.0" stroke-linejoin="round" stroke-linecap="round" />
<path d="M66 524.5 L74.4 529 L77.5 518 L73 505 C71.5 512 69 519 66 524.5 Z" fill="#fff" stroke="#111" stroke-width="1.2" stroke-linejoin="round" stroke-linecap="round" />
<path d="M67.5 524.5 L74.2 528 L76.5 518.5 C73.5 521.5 70.5 523.5 67.5 524.5 Z" fill="#111" stroke="#111" stroke-width="0.6" stroke-linejoin="round" stroke-linecap="round" />
<ellipse cx="108.6" cy="523.3" rx="3.6" ry="2.0" transform="rotate(8 108.6 523.3)" fill="#fff" stroke="#111" stroke-width="1.1" />
<path d="M42.5 550.0 L40.6 558.6 A6.3 4.0 12 0 0 53.0 561.2 L54.9 552.6 Z" fill="#fff" stroke="#111" stroke-width="1.4" stroke-linejoin="round" stroke-linecap="round" />
<path d="M54.9 552.6 L53.0 561.2 L49.7 563.9 L51.6 555.3 Z" fill="#111" stroke="none" stroke-width="1.1" stroke-linejoin="round" stroke-linecap="round" />
<ellipse cx="48.7" cy="551.3" rx="6.3" ry="4.0" transform="rotate(12 48.7 551.3)" fill="#fff" stroke="#111" stroke-width="1.4" />
<ellipse cx="49.2" cy="551.5" rx="3.8" ry="2.2" transform="rotate(12 49.2 551.5)" fill="#fff" stroke="#111" stroke-width="0.9" />
<clipPath id="c9"><ellipse cx="49.2" cy="551.5" rx="3.8" ry="2.2" transform="rotate(12 49.2 551.5)"/></clipPath>
<g clip-path="url(#c9)">
<ellipse cx="49.2" cy="551.5" rx="3.8" ry="2.2" transform="rotate(12 49.2 551.5)" fill="#111" stroke="none" stroke-width="0" />
<ellipse cx="50.7" cy="552.3" rx="3.8" ry="2.2" transform="rotate(12 50.7 552.3)" fill="#fff" stroke="none" stroke-width="0" />
</g>
<path d="M91.2 571.0 L89.3 579.6 A6.3 4.0 12 0 0 101.7 582.2 L103.6 573.6 Z" fill="#fff" stroke="#111" stroke-width="1.4" stroke-linejoin="round" stroke-linecap="round" />
<path d="M103.6 573.6 L101.7 582.2 L98.4 584.9 L100.3 576.3 Z" fill="#111" stroke="none" stroke-width="1.1" stroke-linejoin="round" stroke-linecap="round" />
<ellipse cx="97.4" cy="572.3" rx="6.3" ry="4.0" transform="rotate(12 97.4 572.3)" fill="#fff" stroke="#111" stroke-width="1.4" />
<ellipse cx="97.9" cy="572.5" rx="3.8" ry="2.2" transform="rotate(12 97.9 572.5)" fill="#fff" stroke="#111" stroke-width="0.9" />
<clipPath id="c10"><ellipse cx="97.9" cy="572.5" rx="3.8" ry="2.2" transform="rotate(12 97.9 572.5)"/></clipPath>
<g clip-path="url(#c10)">
<ellipse cx="97.9" cy="572.5" rx="3.8" ry="2.2" transform="rotate(12 97.9 572.5)" fill="#111" stroke="none" stroke-width="0" />
<ellipse cx="99.4" cy="573.3" rx="3.8" ry="2.2" transform="rotate(12 99.4 573.3)" fill="#fff" stroke="none" stroke-width="0" />
</g>
<ellipse cx="39.2" cy="590.6" rx="10.6" ry="6.2" transform="rotate(10 39.2 590.6)" fill="#111" stroke="#111" stroke-width="1.3" />
<path d="M29.3 584.6 L28.8 588.8 A10.6 6.2 10 0 0 49.6 592.4 L50.1 588.2 Z" fill="#fff" stroke="#111" stroke-width="1.3" stroke-linejoin="round" stroke-linecap="round" />
<ellipse cx="39.7" cy="586.4" rx="10.6" ry="6.2" transform="rotate(10 39.7 586.4)" fill="#111" stroke="#111" stroke-width="1.3" />
<path d="M29.6 579.9 L29.3 582.9 A10.9 6.5 10 0 0 50.7 586.7 L51.0 583.7 Z" fill="#fff" stroke="#111" stroke-width="1.3" stroke-linejoin="round" stroke-linecap="round" />
<ellipse cx="40.3" cy="581.8" rx="10.9" ry="6.5" transform="rotate(10 40.3 581.8)" fill="#fff" stroke="#111" stroke-width="1.5" />
<ellipse cx="40.9" cy="582.0" rx="7.2" ry="3.8" transform="rotate(10 40.9 582.0)" fill="#fff" stroke="#111" stroke-width="0.9" />
<clipPath id="c11"><ellipse cx="40.9" cy="582.0" rx="7.2" ry="3.8" transform="rotate(10 40.9 582.0)"/></clipPath>
<g clip-path="url(#c11)">
<ellipse cx="40.9" cy="582.0" rx="7.2" ry="3.8" transform="rotate(10 40.9 582.0)" fill="#111" stroke="none" stroke-width="0" />
<ellipse cx="43.5" cy="583.4" rx="7.2" ry="3.8" transform="rotate(10 43.5 583.4)" fill="#fff" stroke="none" stroke-width="0" />
</g>
<ellipse cx="42.3" cy="582.4" rx="2.6" ry="1.6" transform="rotate(10 42.3 582.4)" fill="#fff" stroke="#111" stroke-width="0.7" />
<path d="M29.6 579.9 L29.3 582.9 L30.1 586.4 L30.4 583.4 Z" fill="#111" stroke="none" stroke-width="1.1" stroke-linejoin="round" stroke-linecap="round" />
<ellipse cx="89.1" cy="610.1" rx="10.6" ry="6.2" transform="rotate(10 89.1 610.1)" fill="#111" stroke="#111" stroke-width="1.3" />
<path d="M79.2 604.1 L78.7 608.3 A10.6 6.2 10 0 0 99.5 611.9 L100.0 607.7 Z" fill="#fff" stroke="#111" stroke-width="1.3" stroke-linejoin="round" stroke-linecap="round" />
<ellipse cx="89.6" cy="605.9" rx="10.6" ry="6.2" transform="rotate(10 89.6 605.9)" fill="#111" stroke="#111" stroke-width="1.3" />
<path d="M79.5 599.4 L79.2 602.4 A10.9 6.5 10 0 0 100.6 606.2 L100.9 603.2 Z" fill="#fff" stroke="#111" stroke-width="1.3" stroke-linejoin="round" stroke-linecap="round" />
<ellipse cx="90.2" cy="601.3" rx="10.9" ry="6.5" transform="rotate(10 90.2 601.3)" fill="#fff" stroke="#111" stroke-width="1.5" />
<ellipse cx="90.8" cy="601.5" rx="7.2" ry="3.8" transform="rotate(10 90.8 601.5)" fill="#fff" stroke="#111" stroke-width="0.9" />
<clipPath id="c12"><ellipse cx="90.8" cy="601.5" rx="7.2" ry="3.8" transform="rotate(10 90.8 601.5)"/></clipPath>
<g clip-path="url(#c12)">
<ellipse cx="90.8" cy="601.5" rx="7.2" ry="3.8" transform="rotate(10 90.8 601.5)" fill="#111" stroke="none" stroke-width="0" />
<ellipse cx="93.4" cy="602.9" rx="7.2" ry="3.8" transform="rotate(10 93.4 602.9)" fill="#fff" stroke="none" stroke-width="0" />
</g>
<ellipse cx="92.2" cy="601.9" rx="2.6" ry="1.6" transform="rotate(10 92.2 601.9)" fill="#fff" stroke="#111" stroke-width="0.7" />
<path d="M79.5 599.4 L79.2 602.4 L80.0 605.9 L80.3 602.9 Z" fill="#111" stroke="none" stroke-width="1.1" stroke-linejoin="round" stroke-linecap="round" />
<path d="M96.0 679.0 C98.3 670.2 97.0 671.9 106.1 656.8 C115.2 641.8 112.9 644.4 126.2 628.7 C139.5 613.0 134.7 617.8 150.4 604.5 C166.1 591.3 160.4 594.7 178.5 584.4 C196.6 574.1 191.4 576.6 210.7 570.3 C230.0 564.0 224.8 566.1 242.9 563.5 C261.0 560.8 254.2 561.5 271.1 561.5 C288.0 561.5 283.6 560.8 299.3 563.5 C314.9 566.1 311.3 564.7 323.4 570.3 C335.5 576.0 332.3 574.6 339.5 582.4 C346.7 590.2 344.5 588.9 347.5 596.5 C350.6 604.1 349.6 603.9 349.6 607.8 C349.6 611.6 354.2 607.9 347.5 609.4 C340.9 610.8 341.9 608.6 327.4 612.6 C312.9 616.6 316.2 614.8 299.3 622.6 C282.4 630.5 286.8 628.5 271.1 638.7 C255.4 649.0 261.4 644.2 246.9 656.8 C232.5 669.5 234.1 670.1 222.8 681.0 C211.4 691.9 216.4 685.8 209.1 693.1 C201.9 700.3 202.5 701.0 198.7 705.1 C194.8 709.3 198.2 705.1 196.2 706.8 C194.2 708.5 196.5 707.9 191.9 710.9 C187.3 713.9 188.2 714.5 181.0 716.8 C173.8 719.1 175.8 718.3 168.0 718.5 C160.2 718.7 163.5 719.0 155.0 717.4 C146.5 715.8 149.6 717.0 139.8 713.1 C130.1 709.2 132.2 709.9 122.5 704.4 C112.8 698.9 114.4 700.2 107.3 694.7 C100.2 689.2 102.1 690.7 98.7 686.0 C95.3 681.3 93.8 687.7 96.0 679.0 Z" fill="#fff" stroke="none" stroke-width="1.1" stroke-linejoin="round" stroke-linecap="round" />
<path d="M96.0 679.0 C99.4 671.6 96.0 673.6 106.1 656.8 C116.2 640.1 111.5 646.1 126.2 628.7 C141.0 611.2 132.9 619.3 150.4 604.5 C167.8 589.8 158.4 595.8 178.5 584.4 C198.7 573.0 189.3 577.3 210.7 570.3 C232.2 563.4 222.8 566.4 242.9 563.5 C263.0 560.5 252.3 561.5 271.1 561.5 C289.9 561.5 281.8 560.5 299.3 563.5 C316.7 566.4 310.0 564.0 323.4 570.3 C336.8 576.6 331.4 573.7 339.5 582.4 C347.5 591.1 344.2 588.0 347.5 596.5 C350.9 604.9 348.9 604.0 349.6 607.8" fill="none" stroke="#111" stroke-width="1.2" stroke-linejoin="round" stroke-linecap="round" />
<path d="M347.5 609.4 C340.8 610.4 343.5 608.2 327.4 612.6 C311.3 617.0 318.0 613.9 299.3 622.6 C280.5 631.4 288.5 627.3 271.1 638.7 C253.6 650.1 263.0 642.8 246.9 656.8 C230.8 670.9 235.4 668.9 222.8 681.0 C210.2 693.1 217.2 685.0 209.1 693.1 C201.1 701.1 202.1 701.1 198.7 705.1" fill="none" stroke="#111" stroke-width="1.2" stroke-linejoin="round" stroke-linecap="round" />
<path d="M196.2 706.8 C194.8 708.2 197.0 707.6 191.9 710.9 C186.8 714.2 189.0 714.3 181.0 716.8 C173.0 719.3 176.7 718.3 168.0 718.5 C159.3 718.7 164.4 719.2 155.0 717.4 C145.6 715.6 150.6 717.4 139.8 713.1 C129.0 708.8 133.3 710.5 122.5 704.4 C111.7 698.3 115.2 700.8 107.3 694.7 C99.4 688.6 102.4 691.4 98.7 686.0 C95.0 680.6 97.0 681.1 96.1 678.6" fill="none" stroke="#111" stroke-width="1.2" stroke-linejoin="round" stroke-linecap="round" />
<path d="M347.8 607.5 C349.5 608 349.5 609.5 347.5 609.5" fill="none" stroke="#111" stroke-width="1.0" stroke-linejoin="round" stroke-linecap="round" />
<path d="M196.2 706.8 L196.6 704.6 L198.6 705.4" fill="none" stroke="#111" stroke-width="1.0" stroke-linejoin="round" stroke-linecap="round" />
<path d="M190.6 591.3 C189.9 594.0 190.3 596.7 188.3 600.3 C186.4 604.0 187.1 602.7 184.1 603.4 C181.1 604.1 180.9 604.1 178.3 602.5 C175.6 601.0 175.4 600.9 175.2 598.1 C175.0 595.3 175.2 595.5 177.6 593.2 C180.1 590.9 179.5 591.0 183.4 590.4 C187.3 589.9 188.4 591.0 190.6 591.3" fill="#fff" stroke="#111" stroke-width="1.1" stroke-linejoin="round" stroke-linecap="round" />
<path d="M194.3 593.9 C193.6 596.0 192.9 598.2 192.3 600.3" fill="none" stroke="#111" stroke-width="0.9" stroke-linejoin="round" stroke-linecap="round" />
<path d="M253.6 602.4 C253.8 605.5 252.6 609.3 254.4 614.3 C256.3 619.3 257.9 617.5 260.4 621.1 C262.9 624.7 263.7 624.5 263.8 627.9 C263.9 631.3 263.9 631.8 260.7 633.9 C257.6 636.0 256.5 636.2 251.9 635.8 C247.2 635.3 247.0 634.9 243.4 632.4 C239.7 629.8 239.2 631.7 238.3 626.2 C237.3 620.7 239.5 615.6 240.0 611.7" fill="#fff" stroke="#111" stroke-width="1.2" stroke-linejoin="round" stroke-linecap="round" />
<path d="M240.0 611.7 C239.8 615.1 237.9 619.4 239.3 624.2 C240.6 628.9 241.3 628.1 245.1 629.6 C248.9 631.2 251.3 629.9 253.6 630.0" fill="none" stroke="#111" stroke-width="0.9" stroke-linejoin="round" stroke-linecap="round" />
<path d="M203.3 580.6 L253.6 602.4 L240.0 611.7 L190.6 591.3 Z" fill="#fff" stroke="#111" stroke-width="1.3" stroke-linejoin="round" stroke-linecap="round" />
<ellipse cx="206.7" cy="589.6" rx="4.0" ry="2.3" transform="rotate(22 206.7 589.6)" fill="#fff" stroke="#111" stroke-width="1.3" />
<clipPath id="c13"><ellipse cx="206.7" cy="589.6" rx="4.0" ry="2.3" transform="rotate(22 206.7 589.6)"/></clipPath>
<g clip-path="url(#c13)">
<ellipse cx="206.7" cy="589.6" rx="4.0" ry="2.3" transform="rotate(22 206.7 589.6)" fill="#111" stroke="none" stroke-width="0" />
<ellipse cx="207.9" cy="590.6" rx="4.0" ry="2.3" transform="rotate(22 207.9 590.6)" fill="#fff" stroke="none" stroke-width="0" />
</g>
<ellipse cx="235.7" cy="600.7" rx="4.0" ry="2.3" transform="rotate(22 235.7 600.7)" fill="#fff" stroke="#111" stroke-width="1.3" />
<clipPath id="c14"><ellipse cx="235.7" cy="600.7" rx="4.0" ry="2.3" transform="rotate(22 235.7 600.7)"/></clipPath>
<g clip-path="url(#c14)">
<ellipse cx="235.7" cy="600.7" rx="4.0" ry="2.3" transform="rotate(22 235.7 600.7)" fill="#111" stroke="none" stroke-width="0" />
<ellipse cx="236.9" cy="601.7" rx="4.0" ry="2.3" transform="rotate(22 236.9 601.7)" fill="#fff" stroke="none" stroke-width="0" />
</g>
<path d="M451 655.5 L497 635.6 C503 634.6 510 634.8 514.3 635.6 C519 636.5 524 638.8 525.4 640.6 L525.4 644.3 L479.6 663.6 Z" fill="#fff" stroke="#111" stroke-width="1.1" stroke-linejoin="round" stroke-linecap="round" />
<path d="M525.4 640.6 L522 643.5 L508 649 L476 662" fill="none" stroke="#555" stroke-width="0.8" stroke-linejoin="round" stroke-linecap="round" />
<ellipse cx="505.0" cy="641.3" rx="3.4" ry="2.0" transform="rotate(5 505.0 641.3)" fill="#fff" stroke="#111" stroke-width="1.0" />
<path d="M520.5 671.5 L539 660.4 L551.5 649.3 C560 649.3 572 651.5 578.7 654.2 L582.4 659.2 L575 667.8 L551.5 680.2 Z" fill="#fff" stroke="#111" stroke-width="1.1" stroke-linejoin="round" stroke-linecap="round" />
<path d="M582.4 659.2 L577 661.5 L566.5 668 L547 678.5" fill="none" stroke="#555" stroke-width="0.8" stroke-linejoin="round" stroke-linecap="round" />
<ellipse cx="558.9" cy="657.9" rx="3.4" ry="2.0" transform="rotate(5 558.9 657.9)" fill="#fff" stroke="#111" stroke-width="1.0" />
<path d="M376.5 640.2 L582 689.3 C584.5 690.2 585.5 692.2 585 695 L574 751 C573.3 754 571.5 755.3 568.5 754.6 L366.5 700.3 C363 699.3 361.7 697.5 362.3 694.5 L371 643.5 C371.8 640.5 373.5 639.6 376.5 640.2 Z" fill="#fff" stroke="#111" stroke-width="1.3" stroke-linejoin="round" stroke-linecap="round" />
<path d="M501.6 602.4 L501.8 616.9 C503.6 618.4 507.6 618.4 509.4 616.9 L509.6 602.4 Z" fill="#fff" stroke="#111" stroke-width="1.1" stroke-linejoin="round" stroke-linecap="round" />
<line x1="501.8" y1="604.9" x2="509.4" y2="605.7" stroke="#333" stroke-width="0.7" stroke-linecap="round"/>
<line x1="501.8" y1="607.1" x2="509.4" y2="607.9" stroke="#333" stroke-width="0.7" stroke-linecap="round"/>
<line x1="501.8" y1="609.3" x2="509.4" y2="610.1" stroke="#333" stroke-width="0.7" stroke-linecap="round"/>
<line x1="501.8" y1="611.5" x2="509.4" y2="612.3" stroke="#333" stroke-width="0.7" stroke-linecap="round"/>
<line x1="501.8" y1="613.7" x2="509.4" y2="614.5" stroke="#333" stroke-width="0.7" stroke-linecap="round"/>
<line x1="501.8" y1="615.9" x2="509.4" y2="616.7" stroke="#333" stroke-width="0.7" stroke-linecap="round"/>
<path d="M496.8 598.9 C496.6 593.9 501.6 591.7 506.1 591.9 C511.1 592.1 514.8 594.9 514.6 599.4 C514.1 602.4 510.6 603.9 505.6 603.7 C500.6 603.5 497.1 601.9 496.8 598.9 Z" fill="#fff" stroke="#111" stroke-width="1.3" stroke-linejoin="round" stroke-linecap="round" />
<path d="M509.6 593.4 C513.6 595.4 514.6 598.9 512.6 601.9 C513.1 598.9 512.1 595.9 509.6 593.4 Z" fill="#111" stroke="#111" stroke-width="0.6" stroke-linejoin="round" stroke-linecap="round" />
<ellipse cx="505.0" cy="624.0" rx="8.6" ry="4.6" transform="rotate(4 505.0 624.0)" fill="#fff" stroke="#111" stroke-width="1.4" />
<ellipse cx="505.3" cy="624.0" rx="4.3" ry="2.0" transform="rotate(4 505.3 624.0)" fill="#fff" stroke="#111" stroke-width="1.1" />
<clipPath id="c15"><ellipse cx="505.3" cy="624.0" rx="4.3" ry="2.0" transform="rotate(4 505.3 624.0)"/></clipPath>
<g clip-path="url(#c15)">
<ellipse cx="505.3" cy="624.0" rx="4.3" ry="2.0" transform="rotate(4 505.3 624.0)" fill="#111" stroke="none" stroke-width="0" />
<ellipse cx="506.5" cy="625.0" rx="4.3" ry="2.0" transform="rotate(4 506.5 625.0)" fill="#fff" stroke="none" stroke-width="0" />
</g>
<path d="M556.6 611.9 L556.8 626.4 C558.6 627.9 562.6 627.9 564.4 626.4 L564.6 611.9 Z" fill="#fff" stroke="#111" stroke-width="1.1" stroke-linejoin="round" stroke-linecap="round" />
<line x1="556.8" y1="614.4" x2="564.4" y2="615.2" stroke="#333" stroke-width="0.7" stroke-linecap="round"/>
<line x1="556.8" y1="616.6" x2="564.4" y2="617.4" stroke="#333" stroke-width="0.7" stroke-linecap="round"/>
<line x1="556.8" y1="618.8" x2="564.4" y2="619.6" stroke="#333" stroke-width="0.7" stroke-linecap="round"/>
<line x1="556.8" y1="621.0" x2="564.4" y2="621.8" stroke="#333" stroke-width="0.7" stroke-linecap="round"/>
<line x1="556.8" y1="623.2" x2="564.4" y2="624.0" stroke="#333" stroke-width="0.7" stroke-linecap="round"/>
<line x1="556.8" y1="625.4" x2="564.4" y2="626.2" stroke="#333" stroke-width="0.7" stroke-linecap="round"/>
<path d="M551.8 608.4 C551.6 603.4 556.6 601.2 561.1 601.4 C566.1 601.6 569.8 604.4 569.6 608.9 C569.1 611.9 565.6 613.4 560.6 613.2 C555.6 613.0 552.1 611.4 551.8 608.4 Z" fill="#fff" stroke="#111" stroke-width="1.3" stroke-linejoin="round" stroke-linecap="round" />
<path d="M564.6 602.9 C568.6 604.9 569.6 608.4 567.6 611.4 C568.1 608.4 567.1 605.4 564.6 602.9 Z" fill="#111" stroke="#111" stroke-width="0.6" stroke-linejoin="round" stroke-linecap="round" />
<ellipse cx="560.1" cy="637.4" rx="8.6" ry="4.6" transform="rotate(4 560.1 637.4)" fill="#fff" stroke="#111" stroke-width="1.4" />
<ellipse cx="560.4" cy="637.4" rx="4.3" ry="2.0" transform="rotate(4 560.4 637.4)" fill="#fff" stroke="#111" stroke-width="1.1" />
<clipPath id="c16"><ellipse cx="560.4" cy="637.4" rx="4.3" ry="2.0" transform="rotate(4 560.4 637.4)"/></clipPath>
<g clip-path="url(#c16)">
<ellipse cx="560.4" cy="637.4" rx="4.3" ry="2.0" transform="rotate(4 560.4 637.4)" fill="#111" stroke="none" stroke-width="0" />
<ellipse cx="561.6" cy="638.4" rx="4.3" ry="2.0" transform="rotate(4 561.6 638.4)" fill="#fff" stroke="none" stroke-width="0" />
</g>
<path d="M537.9 99 L546.4 88.2 L551 85 C557 83.8 564 84.3 569.7 86.1 L580.5 94.3 L585.9 102.9 L585.1 108.3 L572.8 115.2 L547.2 108.3 L538.7 103.6 Z" fill="#fff" stroke="#6a6a6a" stroke-width="1.0" stroke-linejoin="round" stroke-linecap="round" />
<path d="M537.9 99 L547.2 104.4 L572.8 111.2 L585.9 102.9 M547.2 104.4 L547.2 108.3 M572.8 111.2 L572.8 115.2" fill="none" stroke="#6a6a6a" stroke-width="0.9" stroke-linejoin="round" stroke-linecap="round" />
<ellipse cx="563.3" cy="95.3" rx="18.2" ry="7.6" transform="rotate(14 563.3 95.3)" fill="none" stroke="#6a6a6a" stroke-width="0.9" />
<ellipse cx="554.7" cy="125.2" rx="24.0" ry="10.2" transform="rotate(14 554.7 125.2)" fill="#fff" stroke="#6a6a6a" stroke-width="1.0" />
<ellipse cx="555.0" cy="123.8" rx="24.0" ry="10.2" transform="rotate(14 555.0 123.8)" fill="#fff" stroke="#6a6a6a" stroke-width="1.0" />
<ellipse cx="555.8" cy="123.4" rx="16.0" ry="6.0" transform="rotate(14 555.8 123.4)" fill="#fff" stroke="#6a6a6a" stroke-width="0.9" />
<path d="M541.5 120.1 A15.2 5.4 14 0 1 570.6 127.3" fill="none" stroke="#6a6a6a" stroke-width="0.8" stroke-linejoin="round" stroke-linecap="round" />
<path d="M512.8 174.2 L511.5 179.6 A28 11.5 14 0 0 565.8 193.1 L567.2 187.8 Z" fill="#fff" stroke="#6a6a6a" stroke-width="1.15" stroke-linejoin="round" stroke-linecap="round" />
<ellipse cx="540.0" cy="181.0" rx="28.0" ry="11.5" transform="rotate(14 540.0 181.0)" fill="#fff" stroke="#6a6a6a" stroke-width="1.15" />
<ellipse cx="540.8" cy="180.5" rx="19.0" ry="7.0" transform="rotate(14 540.8 180.5)" fill="#fff" stroke="#6a6a6a" stroke-width="1.15" />
<path d="M557.3 187.3 A18.0 6.2 14 0 1 522.9 178.7" fill="none" stroke="#6a6a6a" stroke-width="0.7" stroke-linejoin="round" stroke-linecap="round" />
<path d="M556.8 188.7 A18.0 6.2 14 0 1 522.4 180.1" fill="none" stroke="#6a6a6a" stroke-width="0.7" stroke-linejoin="round" stroke-linecap="round" />
<path d="M556.3 190.2 A18.0 6.2 14 0 1 521.9 181.6" fill="none" stroke="#6a6a6a" stroke-width="0.7" stroke-linejoin="round" stroke-linecap="round" />
<path d="M516.6 170.1 L524.8 173.5 M526.7 168.0 L531.6 172.3" fill="none" stroke="#6a6a6a" stroke-width="0.9" stroke-linejoin="round" stroke-linecap="round" />
<path d="M556.0 174.7 L551.5 176.9 M564.9 181.3 L557.6 181.1" fill="none" stroke="#6a6a6a" stroke-width="0.9" stroke-linejoin="round" stroke-linecap="round" />
<path d="M563.4 191.9 L556.8 187.5 M553.3 194.0 L550.0 188.7" fill="none" stroke="#6a6a6a" stroke-width="0.9" stroke-linejoin="round" stroke-linecap="round" />
<path d="M524.0 187.3 L530.1 184.1 M515.1 180.7 L524.0 179.9" fill="none" stroke="#6a6a6a" stroke-width="0.9" stroke-linejoin="round" stroke-linecap="round" />
<circle cx="548.7" cy="213.8" r="2.2" fill="#fff" stroke="#6a6a6a" stroke-width="1.15"/>
<circle cx="547.1" cy="216.1" r="2.2" fill="#fff" stroke="#6a6a6a" stroke-width="1.15"/>
<circle cx="543.8" cy="217.8" r="2.2" fill="#fff" stroke="#6a6a6a" stroke-width="1.15"/>
<circle cx="539.1" cy="218.6" r="2.2" fill="#fff" stroke="#6a6a6a" stroke-width="1.15"/>
<circle cx="533.5" cy="218.4" r="2.2" fill="#fff" stroke="#6a6a6a" stroke-width="1.15"/>
<circle cx="527.4" cy="217.3" r="2.2" fill="#fff" stroke="#6a6a6a" stroke-width="1.15"/>
<circle cx="521.6" cy="215.5" r="2.2" fill="#fff" stroke="#6a6a6a" stroke-width="1.15"/>
<circle cx="516.5" cy="212.9" r="2.2" fill="#fff" stroke="#6a6a6a" stroke-width="1.15"/>
<circle cx="512.7" cy="210.0" r="2.2" fill="#fff" stroke="#6a6a6a" stroke-width="1.15"/>
<circle cx="510.6" cy="207.0" r="2.2" fill="#fff" stroke="#6a6a6a" stroke-width="1.15"/>
<circle cx="510.3" cy="204.2" r="2.2" fill="#fff" stroke="#6a6a6a" stroke-width="1.15"/>
<circle cx="511.9" cy="201.9" r="2.2" fill="#fff" stroke="#6a6a6a" stroke-width="1.15"/>
<circle cx="515.2" cy="200.2" r="2.2" fill="#fff" stroke="#6a6a6a" stroke-width="1.15"/>
<circle cx="519.9" cy="199.4" r="2.2" fill="#fff" stroke="#6a6a6a" stroke-width="1.15"/>
<circle cx="525.5" cy="199.6" r="2.2" fill="#fff" stroke="#6a6a6a" stroke-width="1.15"/>
<circle cx="531.6" cy="200.7" r="2.2" fill="#fff" stroke="#6a6a6a" stroke-width="1.15"/>
<circle cx="537.4" cy="202.5" r="2.2" fill="#fff" stroke="#6a6a6a" stroke-width="1.15"/>
<circle cx="542.5" cy="205.1" r="2.2" fill="#fff" stroke="#6a6a6a" stroke-width="1.15"/>
<circle cx="546.3" cy="208.0" r="2.2" fill="#fff" stroke="#6a6a6a" stroke-width="1.15"/>
<circle cx="548.4" cy="211.0" r="2.2" fill="#fff" stroke="#6a6a6a" stroke-width="1.15"/>
<path d="M501.9 227.8 L499.8 236.5 A21.5 8.6 14 0 0 541.5 246.9 L543.7 238.2 Z" fill="#fff" stroke="#6a6a6a" stroke-width="1.1" stroke-linejoin="round" stroke-linecap="round" />
<ellipse cx="522.8" cy="233.0" rx="21.5" ry="8.6" transform="rotate(14 522.8 233.0)" fill="#fff" stroke="#6a6a6a" stroke-width="1.1" />
<ellipse cx="524.1" cy="228.2" rx="25.5" ry="10.3" transform="rotate(14 524.1 228.2)" fill="#fff" stroke="#6a6a6a" stroke-width="1.1" />
<ellipse cx="524.6" cy="226.0" rx="25.5" ry="10.3" transform="rotate(14 524.6 226.0)" fill="#fff" stroke="#6a6a6a" stroke-width="1.1" />
<ellipse cx="524.9" cy="226.2" rx="21.0" ry="7.6" transform="rotate(14 524.9 226.2)" fill="#fff" stroke="#6a6a6a" stroke-width="0.935" />
<path d="M541.9 233.2 A18 5.6 14 0 1 507.5 224.7" fill="none" stroke="#6a6a6a" stroke-width="0.7" stroke-linejoin="round" stroke-linecap="round" />
<path d="M531 142.5 C527 141.5 524 143.5 524 147 C524 150.5 526.5 152.8 530 152.6 Z" fill="#fff" stroke="#111" stroke-width="1.2" stroke-linejoin="round" stroke-linecap="round" />
<path d="M561.5 155.5 C565 153.5 570 154.5 571.2 158 C572 161.5 569 164.5 564.5 164.8 Z" fill="#fff" stroke="#111" stroke-width="1.2" stroke-linejoin="round" stroke-linecap="round" />
<path d="M529.6 134.6 L524.9 153.5 A20.6 8.4 14 0 0 564.9 163.5 L569.6 144.6 Z" fill="#fff" stroke="#111" stroke-width="1.4" stroke-linejoin="round" stroke-linecap="round" />
<ellipse cx="549.6" cy="139.6" rx="20.6" ry="8.4" transform="rotate(14 549.6 139.6)" fill="#fff" stroke="#111" stroke-width="1.4" />
<path d="M565.7 159.8 A20.6 8.4 14 0 1 525.9 149.9" fill="none" stroke="#111" stroke-width="1.0" stroke-linejoin="round" stroke-linecap="round" />
<path d="M569.3 145.3 L564.6 164.2 L560.8 167.1 L565.5 148.1 Z" fill="#111" stroke="none" stroke-width="1.1" stroke-linejoin="round" stroke-linecap="round" />
<ellipse cx="550.8" cy="140.2" rx="14.2" ry="5.4" transform="rotate(14 550.8 140.2)" fill="#fff" stroke="#111" stroke-width="1.1" />
<clipPath id="c17"><ellipse cx="550.8" cy="140.2" rx="14.2" ry="5.4" transform="rotate(14 550.8 140.2)"/></clipPath>
<g clip-path="url(#c17)">
<ellipse cx="550.8" cy="140.2" rx="14.2" ry="5.4" transform="rotate(14 550.8 140.2)" fill="#111" stroke="none" stroke-width="0" />
<ellipse cx="554.2" cy="142.6" rx="14.2" ry="5.4" transform="rotate(14 554.2 142.6)" fill="#fff" stroke="none" stroke-width="0" />
</g>
<path d="M561.8 146.1 A13.0 4.4 14 0 1 538.9 141.1" fill="none" stroke="#444" stroke-width="0.7" stroke-linejoin="round" stroke-linecap="round" />
<path d="M561.4 147.6 A13.0 4.4 14 0 1 538.4 142.6" fill="none" stroke="#444" stroke-width="0.7" stroke-linejoin="round" stroke-linecap="round" />
<path d="M531.7 150.9 L551.1 157 L550.3 162.5 L531 156.3 Z" fill="#fff" stroke="#111" stroke-width="1.0" stroke-linejoin="round" stroke-linecap="round" />
<path d="M533.5 151.5 L533 155.5 L549.5 160.5" fill="none" stroke="#111" stroke-width="0.8" stroke-linejoin="round" stroke-linecap="round" />
<line x1="607.2" y1="59.6" x2="610.0" y2="63.8" stroke="#333" stroke-width="1.3" stroke-linecap="round"/>
<g opacity="0.6">
<text transform="scale(1.12 1)" x="140.6 162.4 184.2 206.0 213.6 228.7 244.2 262.3 279.0 294.2 316.1 325.0 343.7 361.6 377.7 392.4 400.4 419.6" y="438.6" font-size="23.6" font-weight="700" fill="none" stroke="#e2e2e2" stroke-width="5.6" stroke-linejoin="round">WWW.4TAKTWINKEL.NL</text>
<text transform="scale(1.12 1)" x="140.6 162.4 184.2 206.0 213.6 228.7 244.2 262.3 279.0 294.2 316.1 325.0 343.7 361.6 377.7 392.4 400.4 419.6" y="438.6" font-size="23.6" font-weight="700" fill="none" stroke="#8a8a8a" stroke-width="2.3" stroke-linejoin="round">WWW.4TAKTWINKEL.NL</text>
<text transform="scale(1.12 1)" x="140.6 162.4 184.2 206.0 213.6 228.7 244.2 262.3 279.0 294.2 316.1 325.0 343.7 361.6 377.7 392.4 400.4 419.6" y="438.6" font-size="23.6" font-weight="700" fill="#dadada" stroke="#dadada" stroke-width="0.6" stroke-linejoin="round">WWW.4TAKTWINKEL.NL</text>
</g>
</svg>
</body></html>
